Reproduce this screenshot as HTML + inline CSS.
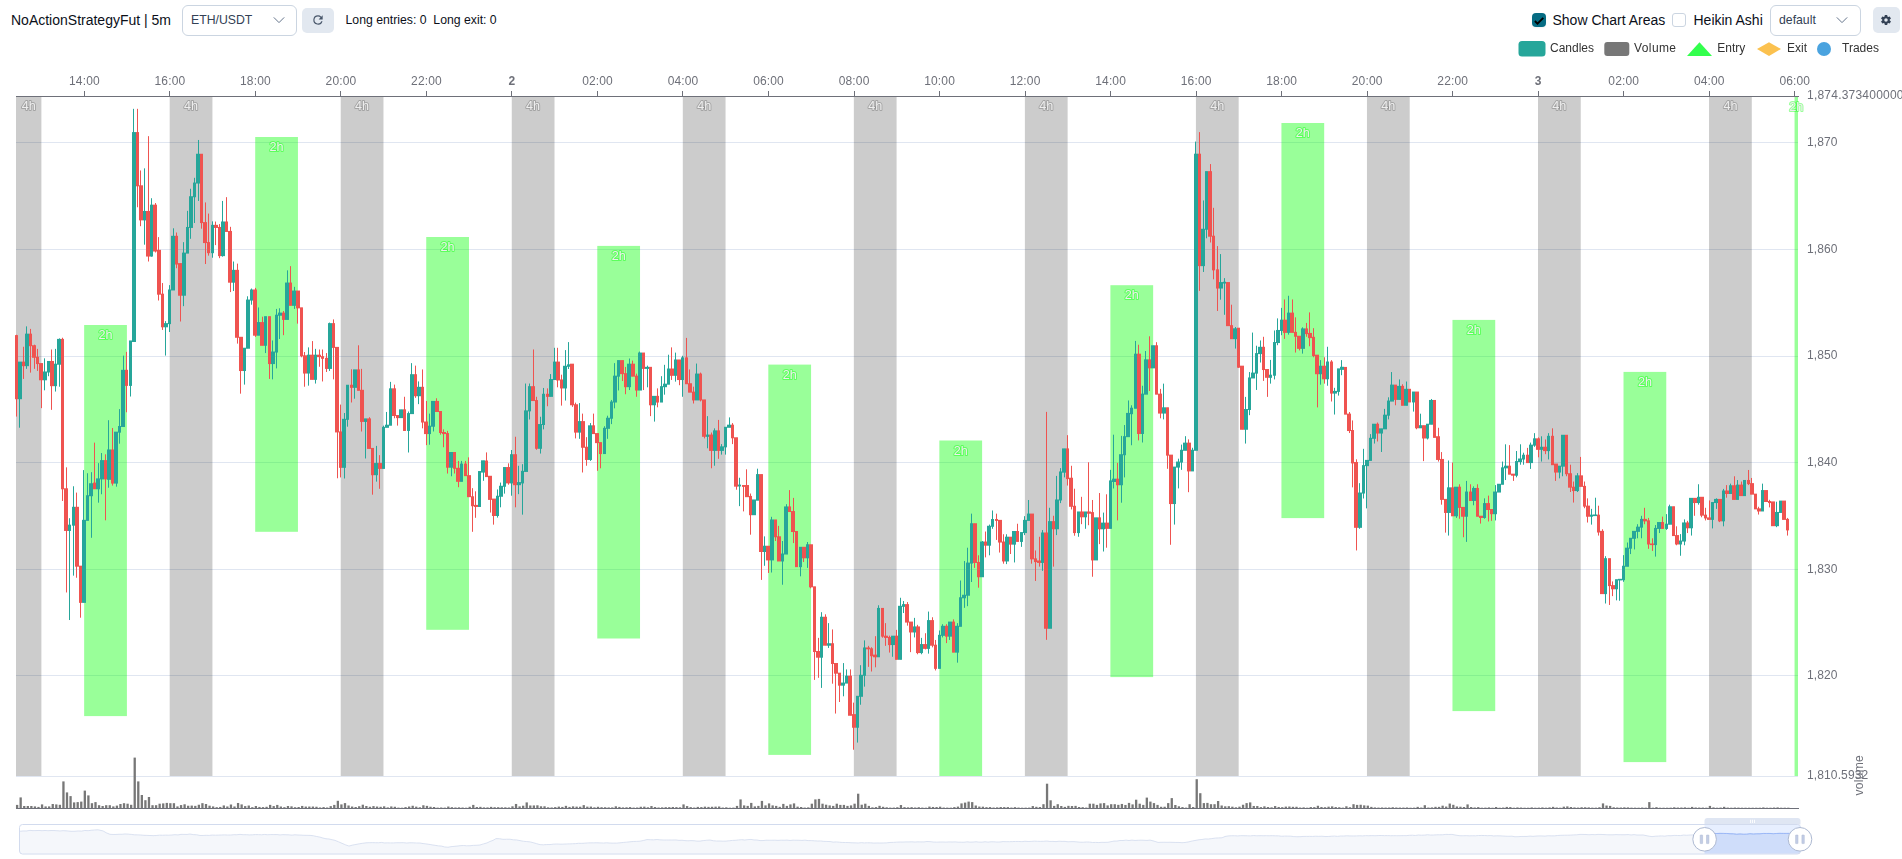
<!DOCTYPE html>
<html><head><meta charset="utf-8"><title>chart</title>
<style>
html,body{margin:0;padding:0;background:#fff;width:1902px;height:859px;overflow:hidden}
body{font-family:"Liberation Sans",sans-serif;color:#0f172a;position:relative}
.abs{position:absolute;white-space:nowrap}
.title{left:11px;top:11px;font-size:14px;line-height:18px;color:#0b0f19}
.sel{box-sizing:border-box;border:1px solid #cbd5e1;border-radius:6px;background:#fff;color:#334155;font-size:12.25px}
.btn{background:#e2e8f0;border-radius:5px}
.txt12{font-size:12.25px;color:#0b0f19}
.txt14{font-size:14px;color:#0b0f19}
</style></head><body>
<div class="abs title">NoActionStrategyFut | 5m</div>
<div class="abs sel" style="left:182px;top:5px;width:115px;height:31px"><span class="abs" style="left:8px;top:7px">ETH/USDT</span>
<svg class="abs" style="left:89px;top:7.3px" width="14" height="14" viewBox="0 0 14 14"><path d="M1.8 4.4L7 9.6L12.2 4.4" fill="none" stroke="#64748b" stroke-width="1"/></svg></div>
<div class="abs btn" style="left:302px;top:7.5px;width:32px;height:25.5px">
<svg class="abs" style="left:9px;top:5.5px" width="14" height="14" viewBox="0 0 24 24"><path fill="#475569" d="M17.65 6.35A7.96 7.96 0 0 0 12 4a8 8 0 1 0 7.73 10h-2.08A6 6 0 1 1 12 6c1.66 0 3.14.69 4.22 1.78L13 11h7V4l-2.35 2.35z"/></svg></div>
<div class="abs txt12" style="left:345.5px;top:12.5px">Long entries: 0&nbsp; Long exit: 0</div>

<div class="abs" style="left:1532px;top:13px;width:14px;height:14px;border-radius:4px;background:#066c83;box-shadow:0 1px 2px rgba(0,0,0,0.06)">
<svg class="abs" style="left:0;top:0" width="14" height="14" viewBox="0 0 14 14"><path d="M2.9 8.0L5.5 10.6L11.3 4.8" fill="none" stroke="#000" stroke-width="1.9"/></svg></div>
<div class="abs txt14" style="left:1552.5px;top:11px;line-height:18px">Show Chart Areas</div>
<div class="abs" style="box-sizing:border-box;left:1672px;top:13px;width:14px;height:14px;border-radius:3px;border:1px solid #cbd5e1;background:#fff"></div>
<div class="abs txt14" style="left:1693.5px;top:11px;line-height:18px">Heikin Ashi</div>
<div class="abs sel" style="left:1770px;top:5px;width:91px;height:31px"><span class="abs" style="left:8px;top:7px">default</span>
<svg class="abs" style="left:64px;top:7.3px" width="14" height="14" viewBox="0 0 14 14"><path d="M1.8 4.4L7 9.6L12.2 4.4" fill="none" stroke="#64748b" stroke-width="1"/></svg></div>
<div class="abs btn" style="left:1872.5px;top:6.5px;width:27px;height:26.5px">
<svg class="abs" style="left:7.3px;top:7.5px" width="12" height="12" viewBox="0 0 24 24"><path fill="#334155" d="M12 15.5A3.5 3.5 0 0 1 8.5 12 3.5 3.5 0 0 1 12 8.500 3.500 3.500 0 0 1 15.500 12a3.500 3.500 0 0 1-3.500 3.500m7.430-2.530c.040-.320.070-.640.070-.970s-.030-.660-.070-1l2.110-1.630c.190-.150.240-.420.120-.640l-2-3.460c-.120-.220-.390-.310-.610-.220l-2.490 1c-.520-.390-1.060-.730-1.690-.980l-.370-2.650A.506.506 0 0 0 14 2h-4c-.250 0-.460.180-.500.420l-.370 2.650c-.630.250-1.170.590-1.690.980l-2.490-1c-.220-.090-.490 0-.610.220l-2 3.460c-.130.220-.070.490.120.640L4.570 11c-.040.340-.070.670-.070 1s.030.650.070.970l-2.110 1.660c-.190.150-.250.420-.120.640l2 3.460c.120.220.390.300.610.220l2.490-1.010c.520.400 1.060.740 1.690.990l.370 2.650c.040.240.250.420.500.420h4c.250 0 .460-.180.500-.420l.370-2.650c.630-.260 1.170-.590 1.690-.990l2.490 1.010c.220.080.490 0 .610-.220l2-3.460c.120-.220.070-.490-.120-.640l-2.110-1.660z"/></svg></div>
<svg width="1902" height="859" viewBox="0 0 1902 859" style="position:absolute;left:0;top:0;will-change:transform" font-family="Liberation Sans, sans-serif">
<defs><clipPath id="cp"><rect x="16" y="96.5" width="1782" height="679.5"/></clipPath><clipPath id="cp2"><rect x="15" y="96.5" width="1785" height="679.5"/></clipPath></defs>
<line x1="16" x2="1798" y1="142.5" y2="142.5" stroke="#e0e6f1" stroke-width="1"/>
<line x1="16" x2="1798" y1="249.5" y2="249.5" stroke="#e0e6f1" stroke-width="1"/>
<line x1="16" x2="1798" y1="356.5" y2="356.5" stroke="#e0e6f1" stroke-width="1"/>
<line x1="16" x2="1798" y1="462.5" y2="462.5" stroke="#e0e6f1" stroke-width="1"/>
<line x1="16" x2="1798" y1="569.5" y2="569.5" stroke="#e0e6f1" stroke-width="1"/>
<line x1="16" x2="1798" y1="675.5" y2="675.5" stroke="#e0e6f1" stroke-width="1"/>
<line x1="16" x2="1798" y1="776.5" y2="776.5" stroke="#e0e6f1" stroke-width="1"/>
<g clip-path="url(#cp)">
<rect x="-1.37" y="96.5" width="42.76" height="679.5" fill="#000" fill-opacity="0.2"/>
<rect x="169.67" y="96.5" width="42.76" height="679.5" fill="#000" fill-opacity="0.2"/>
<rect x="340.71" y="96.5" width="42.76" height="679.5" fill="#000" fill-opacity="0.2"/>
<rect x="511.75" y="96.5" width="42.76" height="679.5" fill="#000" fill-opacity="0.2"/>
<rect x="682.79" y="96.5" width="42.76" height="679.5" fill="#000" fill-opacity="0.2"/>
<rect x="853.83" y="96.5" width="42.76" height="679.5" fill="#000" fill-opacity="0.2"/>
<rect x="1024.87" y="96.5" width="42.76" height="679.5" fill="#000" fill-opacity="0.2"/>
<rect x="1195.91" y="96.5" width="42.76" height="679.5" fill="#000" fill-opacity="0.2"/>
<rect x="1366.95" y="96.5" width="42.76" height="679.5" fill="#000" fill-opacity="0.2"/>
<rect x="1537.99" y="96.5" width="42.76" height="679.5" fill="#000" fill-opacity="0.2"/>
<rect x="1709.03" y="96.5" width="42.76" height="679.5" fill="#000" fill-opacity="0.2"/>
<rect x="84.15" y="325" width="42.76" height="391.1" fill="#00ff00" fill-opacity="0.4"/>
<rect x="255.19" y="137" width="42.76" height="394.8" fill="#00ff00" fill-opacity="0.4"/>
<rect x="426.23" y="237" width="42.76" height="392.8" fill="#00ff00" fill-opacity="0.4"/>
<rect x="597.27" y="245.9" width="42.76" height="392.6" fill="#00ff00" fill-opacity="0.4"/>
<rect x="768.31" y="364.6" width="42.76" height="390.3" fill="#00ff00" fill-opacity="0.4"/>
<rect x="939.35" y="440.5" width="42.76" height="388.8" fill="#00ff00" fill-opacity="0.4"/>
<rect x="1110.39" y="285.2" width="42.76" height="391.9" fill="#00ff00" fill-opacity="0.4"/>
<rect x="1281.43" y="123" width="42.76" height="395.1" fill="#00ff00" fill-opacity="0.4"/>
<rect x="1452.47" y="319.9" width="42.76" height="391.2" fill="#00ff00" fill-opacity="0.4"/>
<rect x="1623.51" y="371.9" width="42.76" height="390.2" fill="#00ff00" fill-opacity="0.4"/>
<rect x="1794.55" y="97" width="42.76" height="679" fill="#00ff00" fill-opacity="0.4"/>
</g>
<g font-size="12.6" text-anchor="middle" fill="#eeeeee" stroke-width="2" paint-order="stroke" stroke-linejoin="round">
<text x="28.70" y="110.2" stroke="#000" stroke-opacity="0.2">4h</text>
<text x="191.05" y="110.2" stroke="#000" stroke-opacity="0.2">4h</text>
<text x="362.09" y="110.2" stroke="#000" stroke-opacity="0.2">4h</text>
<text x="533.13" y="110.2" stroke="#000" stroke-opacity="0.2">4h</text>
<text x="704.17" y="110.2" stroke="#000" stroke-opacity="0.2">4h</text>
<text x="875.21" y="110.2" stroke="#000" stroke-opacity="0.2">4h</text>
<text x="1046.25" y="110.2" stroke="#000" stroke-opacity="0.2">4h</text>
<text x="1217.29" y="110.2" stroke="#000" stroke-opacity="0.2">4h</text>
<text x="1388.33" y="110.2" stroke="#000" stroke-opacity="0.2">4h</text>
<text x="1559.37" y="110.2" stroke="#000" stroke-opacity="0.2">4h</text>
<text x="1730.41" y="110.2" stroke="#000" stroke-opacity="0.2">4h</text>
<text x="105.53" y="339.20" stroke="#00ff00" stroke-opacity="0.4">2h</text>
<text x="276.57" y="151.20" stroke="#00ff00" stroke-opacity="0.4">2h</text>
<text x="447.61" y="251.20" stroke="#00ff00" stroke-opacity="0.4">2h</text>
<text x="618.65" y="260.10" stroke="#00ff00" stroke-opacity="0.4">2h</text>
<text x="789.69" y="378.80" stroke="#00ff00" stroke-opacity="0.4">2h</text>
<text x="960.73" y="454.70" stroke="#00ff00" stroke-opacity="0.4">2h</text>
<text x="1131.77" y="299.40" stroke="#00ff00" stroke-opacity="0.4">2h</text>
<text x="1302.81" y="137.20" stroke="#00ff00" stroke-opacity="0.4">2h</text>
<text x="1473.85" y="334.10" stroke="#00ff00" stroke-opacity="0.4">2h</text>
<text x="1644.89" y="386.10" stroke="#00ff00" stroke-opacity="0.4">2h</text>
<text x="1796.28" y="111.20" stroke="#00ff00" stroke-opacity="0.4">2h</text>
</g>
<g clip-path="url(#cp2)">
<path d="M16.5 334.77V416.59" stroke="#ef5350" stroke-width="1"/>
<rect x="15.0" y="335.11" width="3.0" height="64.10" fill="#ef5350"/>
<path d="M19.5 362.11V427.73" stroke="#26a69a" stroke-width="1"/>
<rect x="18.0" y="361.61" width="4.0" height="37.60" fill="#26a69a"/>
<path d="M23.5 346.76V378.93" stroke="#ef5350" stroke-width="1"/>
<rect x="22.0" y="361.61" width="3.0" height="4.57" fill="#ef5350"/>
<path d="M26.5 326.36V368.84" stroke="#26a69a" stroke-width="1"/>
<rect x="25.0" y="333.64" width="4.0" height="32.54" fill="#26a69a"/>
<path d="M30.5 328.89V372.62" stroke="#ef5350" stroke-width="1"/>
<rect x="29.0" y="333.64" width="3.0" height="12.57" fill="#ef5350"/>
<path d="M34.5 344.66V368.84" stroke="#ef5350" stroke-width="1"/>
<rect x="32.0" y="345.21" width="4.0" height="12.57" fill="#ef5350"/>
<path d="M37.5 348.86V370.95" stroke="#ef5350" stroke-width="1"/>
<rect x="36.0" y="356.77" width="3.0" height="7.31" fill="#ef5350"/>
<path d="M41.5 363.58V408.18" stroke="#ef5350" stroke-width="1"/>
<rect x="39.0" y="363.08" width="4.0" height="17.19" fill="#ef5350"/>
<path d="M44.5 358.33V390.30" stroke="#26a69a" stroke-width="1"/>
<rect x="43.0" y="371.50" width="4.0" height="8.78" fill="#26a69a"/>
<path d="M48.5 361.48V376.21" stroke="#26a69a" stroke-width="1"/>
<rect x="47.0" y="360.98" width="3.0" height="11.51" fill="#26a69a"/>
<path d="M51.5 349.49V409.85" stroke="#ef5350" stroke-width="1"/>
<rect x="50.0" y="360.98" width="4.0" height="25.19" fill="#ef5350"/>
<path d="M55.5 348.86V391.56" stroke="#26a69a" stroke-width="1"/>
<rect x="54.0" y="363.71" width="3.0" height="22.46" fill="#26a69a"/>
<path d="M59.5 338.35V386.72" stroke="#26a69a" stroke-width="1"/>
<rect x="57.0" y="338.90" width="4.0" height="25.82" fill="#26a69a"/>
<path d="M62.5 337.72V500.99" stroke="#ef5350" stroke-width="1"/>
<rect x="61.0" y="338.90" width="3.0" height="150.39" fill="#ef5350"/>
<path d="M66.5 467.34V592.48" stroke="#ef5350" stroke-width="1"/>
<rect x="64.0" y="488.29" width="4.0" height="42.65" fill="#ef5350"/>
<path d="M69.5 518.23V620.02" stroke="#26a69a" stroke-width="1"/>
<rect x="68.0" y="524.67" width="3.0" height="6.27" fill="#26a69a"/>
<path d="M73.5 486.27V575.64" stroke="#26a69a" stroke-width="1"/>
<rect x="72.0" y="506.80" width="3.0" height="18.87" fill="#26a69a"/>
<path d="M76.5 492.58V577.75" stroke="#ef5350" stroke-width="1"/>
<rect x="75.0" y="506.80" width="4.0" height="59.88" fill="#ef5350"/>
<path d="M80.5 566.18V617.71" stroke="#ef5350" stroke-width="1"/>
<rect x="79.0" y="565.68" width="3.0" height="37.18" fill="#ef5350"/>
<path d="M83.5 470.08V602.36" stroke="#26a69a" stroke-width="1"/>
<rect x="82.0" y="519.84" width="4.0" height="83.02" fill="#26a69a"/>
<path d="M87.5 473.23V520.34" stroke="#26a69a" stroke-width="1"/>
<rect x="86.0" y="495.23" width="3.0" height="25.61" fill="#26a69a"/>
<path d="M91.5 472.18V537.79" stroke="#26a69a" stroke-width="1"/>
<rect x="89.0" y="483.24" width="4.0" height="12.98" fill="#26a69a"/>
<path d="M94.5 442.64V488.76" stroke="#ef5350" stroke-width="1"/>
<rect x="93.0" y="482.60" width="3.0" height="6.66" fill="#ef5350"/>
<path d="M98.5 463.14V502.68" stroke="#26a69a" stroke-width="1"/>
<rect x="96.0" y="478.40" width="4.0" height="10.88" fill="#26a69a"/>
<path d="M101.5 453.04V494.25" stroke="#26a69a" stroke-width="1"/>
<rect x="100.0" y="460.11" width="4.0" height="19.29" fill="#26a69a"/>
<path d="M105.5 454.30V520.34" stroke="#ef5350" stroke-width="1"/>
<rect x="104.0" y="460.11" width="3.0" height="19.29" fill="#ef5350"/>
<path d="M108.5 420.21V487.72" stroke="#26a69a" stroke-width="1"/>
<rect x="107.0" y="449.48" width="4.0" height="30.35" fill="#26a69a"/>
<path d="M112.5 427.97V485.62" stroke="#ef5350" stroke-width="1"/>
<rect x="111.0" y="449.48" width="3.0" height="34.12" fill="#ef5350"/>
<path d="M116.5 432.16V486.66" stroke="#26a69a" stroke-width="1"/>
<rect x="114.0" y="431.66" width="4.0" height="51.94" fill="#26a69a"/>
<path d="M119.5 409.10V443.69" stroke="#26a69a" stroke-width="1"/>
<rect x="118.0" y="426.00" width="3.0" height="6.66" fill="#26a69a"/>
<path d="M123.5 355.64V426.50" stroke="#26a69a" stroke-width="1"/>
<rect x="121.0" y="369.81" width="4.0" height="57.19" fill="#26a69a"/>
<path d="M126.5 351.87V412.25" stroke="#ef5350" stroke-width="1"/>
<rect x="125.0" y="369.81" width="3.0" height="16.09" fill="#ef5350"/>
<path d="M130.5 340.96V396.52" stroke="#26a69a" stroke-width="1"/>
<rect x="129.0" y="340.46" width="3.0" height="45.44" fill="#26a69a"/>
<path d="M133.5 108.83V341.51" stroke="#26a69a" stroke-width="1"/>
<rect x="132.0" y="132.09" width="4.0" height="209.91" fill="#26a69a"/>
<path d="M137.5 108.83V207.26" stroke="#ef5350" stroke-width="1"/>
<rect x="136.0" y="132.09" width="3.0" height="54.21" fill="#ef5350"/>
<path d="M140.5 170.46V226.19" stroke="#ef5350" stroke-width="1"/>
<rect x="139.0" y="185.31" width="4.0" height="35.07" fill="#ef5350"/>
<path d="M144.5 168.35V244.69" stroke="#26a69a" stroke-width="1"/>
<rect x="143.0" y="210.97" width="3.0" height="9.41" fill="#26a69a"/>
<path d="M148.5 136.17V261.51" stroke="#ef5350" stroke-width="1"/>
<rect x="146.0" y="210.97" width="4.0" height="45.58" fill="#ef5350"/>
<path d="M151.5 198.22V256.68" stroke="#26a69a" stroke-width="1"/>
<rect x="150.0" y="204.66" width="3.0" height="51.89" fill="#26a69a"/>
<path d="M155.5 203.04V252.48" stroke="#ef5350" stroke-width="1"/>
<rect x="153.0" y="204.66" width="4.0" height="46.85" fill="#ef5350"/>
<path d="M158.5 237.11V300.50" stroke="#ef5350" stroke-width="1"/>
<rect x="157.0" y="249.86" width="4.0" height="44.82" fill="#ef5350"/>
<path d="M162.5 283.04V329.94" stroke="#ef5350" stroke-width="1"/>
<rect x="161.0" y="293.69" width="3.0" height="33.60" fill="#ef5350"/>
<path d="M165.5 321.10V355.59" stroke="#26a69a" stroke-width="1"/>
<rect x="164.0" y="323.13" width="4.0" height="4.16" fill="#26a69a"/>
<path d="M169.5 285.14V332.04" stroke="#26a69a" stroke-width="1"/>
<rect x="168.0" y="289.48" width="3.0" height="34.65" fill="#26a69a"/>
<path d="M173.5 228.29V289.98" stroke="#26a69a" stroke-width="1"/>
<rect x="171.0" y="235.78" width="4.0" height="54.69" fill="#26a69a"/>
<path d="M176.5 232.49V268.24" stroke="#ef5350" stroke-width="1"/>
<rect x="175.0" y="235.78" width="3.0" height="28.76" fill="#ef5350"/>
<path d="M180.5 263.61V321.52" stroke="#ef5350" stroke-width="1"/>
<rect x="178.0" y="263.11" width="4.0" height="32.62" fill="#ef5350"/>
<path d="M183.5 242.17V306.17" stroke="#26a69a" stroke-width="1"/>
<rect x="182.0" y="252.60" width="4.0" height="43.13" fill="#26a69a"/>
<path d="M187.5 210.83V253.10" stroke="#26a69a" stroke-width="1"/>
<rect x="186.0" y="226.95" width="3.0" height="26.66" fill="#26a69a"/>
<path d="M190.5 188.75V238.80" stroke="#26a69a" stroke-width="1"/>
<rect x="189.0" y="196.24" width="4.0" height="31.70" fill="#26a69a"/>
<path d="M194.5 177.81V223.03" stroke="#26a69a" stroke-width="1"/>
<rect x="193.0" y="182.57" width="3.0" height="14.68" fill="#26a69a"/>
<path d="M198.5 139.96V200.94" stroke="#26a69a" stroke-width="1"/>
<rect x="196.0" y="153.75" width="4.0" height="29.81" fill="#26a69a"/>
<path d="M201.5 154.25V228.70" stroke="#ef5350" stroke-width="1"/>
<rect x="200.0" y="153.75" width="3.0" height="69.35" fill="#ef5350"/>
<path d="M205.5 202.42V264.04" stroke="#ef5350" stroke-width="1"/>
<rect x="203.0" y="222.11" width="4.0" height="20.98" fill="#ef5350"/>
<path d="M208.5 213.57V255.63" stroke="#ef5350" stroke-width="1"/>
<rect x="207.0" y="242.08" width="3.0" height="11.10" fill="#ef5350"/>
<path d="M212.5 221.35V257.73" stroke="#26a69a" stroke-width="1"/>
<rect x="211.0" y="224.85" width="3.0" height="28.33" fill="#26a69a"/>
<path d="M215.5 221.56V245.11" stroke="#ef5350" stroke-width="1"/>
<rect x="214.0" y="224.85" width="4.0" height="3.10" fill="#ef5350"/>
<path d="M219.5 224.08V258.15" stroke="#ef5350" stroke-width="1"/>
<rect x="218.0" y="226.95" width="3.0" height="29.19" fill="#ef5350"/>
<path d="M222.5 200.94V256.68" stroke="#26a69a" stroke-width="1"/>
<rect x="221.0" y="221.48" width="4.0" height="34.65" fill="#26a69a"/>
<path d="M226.5 197.16V231.44" stroke="#ef5350" stroke-width="1"/>
<rect x="225.0" y="221.48" width="3.0" height="10.47" fill="#ef5350"/>
<path d="M230.5 226.82V292.08" stroke="#ef5350" stroke-width="1"/>
<rect x="228.0" y="230.94" width="4.0" height="51.75" fill="#ef5350"/>
<path d="M233.5 261.51V291.03" stroke="#26a69a" stroke-width="1"/>
<rect x="232.0" y="269.85" width="3.0" height="12.84" fill="#26a69a"/>
<path d="M237.5 263.61V343.61" stroke="#ef5350" stroke-width="1"/>
<rect x="235.0" y="269.85" width="4.0" height="67.94" fill="#ef5350"/>
<path d="M240.5 337.30V393.66" stroke="#ef5350" stroke-width="1"/>
<rect x="239.0" y="336.80" width="4.0" height="34.23" fill="#ef5350"/>
<path d="M244.5 348.23V384.62" stroke="#26a69a" stroke-width="1"/>
<rect x="243.0" y="347.73" width="3.0" height="23.29" fill="#26a69a"/>
<path d="M247.5 296.29V348.23" stroke="#26a69a" stroke-width="1"/>
<rect x="246.0" y="299.57" width="4.0" height="49.16" fill="#26a69a"/>
<path d="M251.5 288.51V304.70" stroke="#26a69a" stroke-width="1"/>
<rect x="250.0" y="289.48" width="3.0" height="11.10" fill="#26a69a"/>
<path d="M255.5 287.88V336.88" stroke="#ef5350" stroke-width="1"/>
<rect x="253.0" y="289.48" width="4.0" height="46.22" fill="#ef5350"/>
<path d="M258.5 307.44V335.20" stroke="#26a69a" stroke-width="1"/>
<rect x="257.0" y="322.08" width="3.0" height="13.62" fill="#26a69a"/>
<path d="M262.5 316.69V345.29" stroke="#ef5350" stroke-width="1"/>
<rect x="260.0" y="322.08" width="4.0" height="23.72" fill="#ef5350"/>
<path d="M265.5 316.69V353.07" stroke="#26a69a" stroke-width="1"/>
<rect x="264.0" y="316.19" width="3.0" height="29.60" fill="#26a69a"/>
<path d="M269.5 316.69V378.93" stroke="#ef5350" stroke-width="1"/>
<rect x="268.0" y="316.19" width="3.0" height="47.89" fill="#ef5350"/>
<path d="M272.5 340.45V379.36" stroke="#26a69a" stroke-width="1"/>
<rect x="271.0" y="351.52" width="4.0" height="12.57" fill="#26a69a"/>
<path d="M276.5 308.91V368.42" stroke="#26a69a" stroke-width="1"/>
<rect x="275.0" y="314.72" width="3.0" height="37.80" fill="#26a69a"/>
<path d="M279.5 308.28V338.98" stroke="#26a69a" stroke-width="1"/>
<rect x="278.0" y="312.61" width="4.0" height="3.11" fill="#26a69a"/>
<path d="M283.5 311.01V335.20" stroke="#ef5350" stroke-width="1"/>
<rect x="282.0" y="312.61" width="3.0" height="7.31" fill="#ef5350"/>
<path d="M287.5 270.35V319.42" stroke="#26a69a" stroke-width="1"/>
<rect x="285.0" y="282.54" width="4.0" height="37.38" fill="#26a69a"/>
<path d="M290.5 266.14V305.33" stroke="#ef5350" stroke-width="1"/>
<rect x="289.0" y="282.54" width="3.0" height="23.29" fill="#ef5350"/>
<path d="M294.5 286.82V308.91" stroke="#26a69a" stroke-width="1"/>
<rect x="292.0" y="290.53" width="4.0" height="15.30" fill="#26a69a"/>
<path d="M297.5 291.03V323.63" stroke="#ef5350" stroke-width="1"/>
<rect x="296.0" y="290.53" width="4.0" height="17.82" fill="#ef5350"/>
<path d="M301.5 307.85V357.27" stroke="#ef5350" stroke-width="1"/>
<rect x="300.0" y="307.35" width="3.0" height="48.95" fill="#ef5350"/>
<path d="M304.5 352.02V386.72" stroke="#ef5350" stroke-width="1"/>
<rect x="303.0" y="355.30" width="4.0" height="18.25" fill="#ef5350"/>
<path d="M308.5 347.39V385.67" stroke="#26a69a" stroke-width="1"/>
<rect x="307.0" y="354.67" width="3.0" height="18.88" fill="#26a69a"/>
<path d="M312.5 341.08V379.36" stroke="#ef5350" stroke-width="1"/>
<rect x="310.0" y="354.67" width="4.0" height="25.19" fill="#ef5350"/>
<path d="M315.5 348.86V383.56" stroke="#26a69a" stroke-width="1"/>
<rect x="314.0" y="354.67" width="3.0" height="25.19" fill="#26a69a"/>
<path d="M319.5 349.49V366.74" stroke="#ef5350" stroke-width="1"/>
<rect x="317.0" y="354.67" width="4.0" height="2.47" fill="#ef5350"/>
<path d="M322.5 349.49V381.46" stroke="#ef5350" stroke-width="1"/>
<rect x="321.0" y="356.14" width="3.0" height="2.68" fill="#ef5350"/>
<path d="M326.5 353.07V372.00" stroke="#ef5350" stroke-width="1"/>
<rect x="325.0" y="357.83" width="3.0" height="11.10" fill="#ef5350"/>
<path d="M329.5 322.58V370.95" stroke="#26a69a" stroke-width="1"/>
<rect x="328.0" y="323.13" width="4.0" height="45.79" fill="#26a69a"/>
<path d="M333.5 319.42V379.36" stroke="#ef5350" stroke-width="1"/>
<rect x="332.0" y="323.13" width="3.0" height="24.76" fill="#ef5350"/>
<path d="M337.5 347.39V478.28" stroke="#ef5350" stroke-width="1"/>
<rect x="335.0" y="346.89" width="4.0" height="85.54" fill="#ef5350"/>
<path d="M340.5 404.59V477.43" stroke="#ef5350" stroke-width="1"/>
<rect x="339.0" y="431.44" width="3.0" height="36.40" fill="#ef5350"/>
<path d="M344.5 413.00V478.49" stroke="#26a69a" stroke-width="1"/>
<rect x="342.0" y="418.81" width="4.0" height="49.02" fill="#26a69a"/>
<path d="M347.5 385.25V426.68" stroke="#26a69a" stroke-width="1"/>
<rect x="346.0" y="384.75" width="3.0" height="35.07" fill="#26a69a"/>
<path d="M351.5 369.27V402.49" stroke="#ef5350" stroke-width="1"/>
<rect x="350.0" y="384.75" width="3.0" height="3.10" fill="#ef5350"/>
<path d="M354.5 369.90V398.71" stroke="#26a69a" stroke-width="1"/>
<rect x="353.0" y="369.40" width="4.0" height="18.45" fill="#26a69a"/>
<path d="M358.5 345.29V390.30" stroke="#ef5350" stroke-width="1"/>
<rect x="357.0" y="369.40" width="3.0" height="21.40" fill="#ef5350"/>
<path d="M361.5 368.84V431.51" stroke="#ef5350" stroke-width="1"/>
<rect x="360.0" y="389.80" width="4.0" height="32.12" fill="#ef5350"/>
<path d="M365.5 418.90V458.51" stroke="#26a69a" stroke-width="1"/>
<rect x="364.0" y="418.40" width="3.0" height="3.52" fill="#26a69a"/>
<path d="M369.5 417.21V448.42" stroke="#ef5350" stroke-width="1"/>
<rect x="367.0" y="418.40" width="4.0" height="30.52" fill="#ef5350"/>
<path d="M372.5 448.42V494.68" stroke="#ef5350" stroke-width="1"/>
<rect x="371.0" y="447.92" width="3.0" height="27.29" fill="#ef5350"/>
<path d="M376.5 445.89V481.64" stroke="#26a69a" stroke-width="1"/>
<rect x="374.0" y="463.05" width="4.0" height="12.15" fill="#26a69a"/>
<path d="M379.5 455.14V488.79" stroke="#ef5350" stroke-width="1"/>
<rect x="378.0" y="463.05" width="4.0" height="5.84" fill="#ef5350"/>
<path d="M383.5 425.63V468.39" stroke="#26a69a" stroke-width="1"/>
<rect x="382.0" y="426.81" width="3.0" height="42.08" fill="#26a69a"/>
<path d="M386.5 411.96V427.31" stroke="#26a69a" stroke-width="1"/>
<rect x="385.0" y="424.71" width="4.0" height="3.10" fill="#26a69a"/>
<path d="M390.5 381.88V425.21" stroke="#26a69a" stroke-width="1"/>
<rect x="389.0" y="388.33" width="3.0" height="37.38" fill="#26a69a"/>
<path d="M394.5 384.62V418.27" stroke="#ef5350" stroke-width="1"/>
<rect x="392.0" y="388.33" width="4.0" height="27.70" fill="#ef5350"/>
<path d="M397.5 415.53V425.63" stroke="#ef5350" stroke-width="1"/>
<rect x="396.0" y="415.03" width="3.0" height="3.10" fill="#ef5350"/>
<path d="M401.5 409.85V417.63" stroke="#26a69a" stroke-width="1"/>
<rect x="399.0" y="409.35" width="4.0" height="8.78" fill="#26a69a"/>
<path d="M404.5 396.78V430.43" stroke="#ef5350" stroke-width="1"/>
<rect x="403.0" y="409.32" width="3.0" height="21.62" fill="#ef5350"/>
<path d="M408.5 411.50V452.51" stroke="#26a69a" stroke-width="1"/>
<rect x="407.0" y="413.11" width="3.0" height="17.82" fill="#26a69a"/>
<path d="M411.5 363.14V413.61" stroke="#26a69a" stroke-width="1"/>
<rect x="410.0" y="374.20" width="4.0" height="39.91" fill="#26a69a"/>
<path d="M415.5 365.65V397.83" stroke="#ef5350" stroke-width="1"/>
<rect x="414.0" y="374.20" width="3.0" height="22.03" fill="#ef5350"/>
<path d="M418.5 381.43V404.15" stroke="#26a69a" stroke-width="1"/>
<rect x="417.0" y="386.81" width="4.0" height="9.42" fill="#26a69a"/>
<path d="M422.5 369.45V428.33" stroke="#ef5350" stroke-width="1"/>
<rect x="421.0" y="386.81" width="3.0" height="35.71" fill="#ef5350"/>
<path d="M426.5 400.99V445.15" stroke="#ef5350" stroke-width="1"/>
<rect x="424.0" y="421.52" width="4.0" height="12.57" fill="#ef5350"/>
<path d="M429.5 413.61V444.73" stroke="#26a69a" stroke-width="1"/>
<rect x="428.0" y="425.72" width="3.0" height="8.37" fill="#26a69a"/>
<path d="M433.5 401.41V431.48" stroke="#26a69a" stroke-width="1"/>
<rect x="431.0" y="400.91" width="4.0" height="25.82" fill="#26a69a"/>
<path d="M436.5 398.25V411.50" stroke="#ef5350" stroke-width="1"/>
<rect x="435.0" y="400.91" width="4.0" height="11.10" fill="#ef5350"/>
<path d="M440.5 411.50V434.63" stroke="#ef5350" stroke-width="1"/>
<rect x="439.0" y="411.00" width="3.0" height="22.03" fill="#ef5350"/>
<path d="M443.5 429.38V447.25" stroke="#ef5350" stroke-width="1"/>
<rect x="442.0" y="432.03" width="4.0" height="2.06" fill="#ef5350"/>
<path d="M447.5 430.85V473.54" stroke="#ef5350" stroke-width="1"/>
<rect x="446.0" y="433.09" width="3.0" height="34.64" fill="#ef5350"/>
<path d="M451.5 452.51V476.28" stroke="#26a69a" stroke-width="1"/>
<rect x="449.0" y="452.01" width="4.0" height="15.72" fill="#26a69a"/>
<path d="M454.5 452.51V473.54" stroke="#ef5350" stroke-width="1"/>
<rect x="453.0" y="452.01" width="3.0" height="16.78" fill="#ef5350"/>
<path d="M458.5 460.92V487.21" stroke="#ef5350" stroke-width="1"/>
<rect x="456.0" y="467.79" width="4.0" height="14.04" fill="#ef5350"/>
<path d="M461.5 460.92V481.32" stroke="#26a69a" stroke-width="1"/>
<rect x="460.0" y="463.58" width="3.0" height="18.25" fill="#26a69a"/>
<path d="M465.5 460.92V475.64" stroke="#ef5350" stroke-width="1"/>
<rect x="464.0" y="463.58" width="3.0" height="12.57" fill="#ef5350"/>
<path d="M468.5 457.35V496.67" stroke="#ef5350" stroke-width="1"/>
<rect x="467.0" y="475.14" width="4.0" height="22.03" fill="#ef5350"/>
<path d="M472.5 488.16V531.80" stroke="#ef5350" stroke-width="1"/>
<rect x="471.0" y="496.28" width="3.0" height="9.94" fill="#ef5350"/>
<path d="M475.5 491.31V517.81" stroke="#ef5350" stroke-width="1"/>
<rect x="474.0" y="504.90" width="4.0" height="2.06" fill="#ef5350"/>
<path d="M479.5 471.55V506.46" stroke="#26a69a" stroke-width="1"/>
<rect x="478.0" y="471.05" width="3.0" height="35.91" fill="#26a69a"/>
<path d="M483.5 460.82V480.80" stroke="#26a69a" stroke-width="1"/>
<rect x="481.0" y="460.32" width="4.0" height="12.25" fill="#26a69a"/>
<path d="M486.5 452.40V476.59" stroke="#ef5350" stroke-width="1"/>
<rect x="485.0" y="460.53" width="3.0" height="16.56" fill="#ef5350"/>
<path d="M490.5 476.28V512.56" stroke="#ef5350" stroke-width="1"/>
<rect x="488.0" y="475.78" width="4.0" height="24.13" fill="#ef5350"/>
<path d="M493.5 499.09V524.65" stroke="#ef5350" stroke-width="1"/>
<rect x="492.0" y="498.59" width="4.0" height="17.41" fill="#ef5350"/>
<path d="M497.5 489.43V517.60" stroke="#26a69a" stroke-width="1"/>
<rect x="496.0" y="495.76" width="3.0" height="20.24" fill="#26a69a"/>
<path d="M500.5 482.58V507.30" stroke="#26a69a" stroke-width="1"/>
<rect x="499.0" y="485.77" width="4.0" height="10.99" fill="#26a69a"/>
<path d="M504.5 467.55V493.63" stroke="#26a69a" stroke-width="1"/>
<rect x="503.0" y="467.05" width="3.0" height="19.72" fill="#26a69a"/>
<path d="M508.5 463.34V484.69" stroke="#ef5350" stroke-width="1"/>
<rect x="506.0" y="467.05" width="4.0" height="16.35" fill="#ef5350"/>
<path d="M511.5 449.99V495.73" stroke="#26a69a" stroke-width="1"/>
<rect x="510.0" y="454.22" width="3.0" height="29.19" fill="#26a69a"/>
<path d="M515.5 436.74V507.30" stroke="#ef5350" stroke-width="1"/>
<rect x="513.0" y="454.22" width="4.0" height="30.98" fill="#ef5350"/>
<path d="M518.5 465.76V494.16" stroke="#26a69a" stroke-width="1"/>
<rect x="517.0" y="482.08" width="4.0" height="3.11" fill="#26a69a"/>
<path d="M522.5 464.18V514.66" stroke="#26a69a" stroke-width="1"/>
<rect x="521.0" y="470.84" width="3.0" height="12.57" fill="#26a69a"/>
<path d="M525.5 383.53V471.44" stroke="#26a69a" stroke-width="1"/>
<rect x="524.0" y="410.37" width="4.0" height="61.57" fill="#26a69a"/>
<path d="M529.5 383.53V419.50" stroke="#26a69a" stroke-width="1"/>
<rect x="528.0" y="386.18" width="3.0" height="25.19" fill="#26a69a"/>
<path d="M533.5 349.46V400.56" stroke="#ef5350" stroke-width="1"/>
<rect x="531.0" y="386.18" width="4.0" height="14.88" fill="#ef5350"/>
<path d="M536.5 396.78V449.78" stroke="#ef5350" stroke-width="1"/>
<rect x="535.0" y="400.06" width="3.0" height="48.75" fill="#ef5350"/>
<path d="M540.5 416.76V453.57" stroke="#26a69a" stroke-width="1"/>
<rect x="538.0" y="424.04" width="4.0" height="24.77" fill="#26a69a"/>
<path d="M543.5 387.95V429.38" stroke="#26a69a" stroke-width="1"/>
<rect x="542.0" y="393.76" width="3.0" height="31.27" fill="#26a69a"/>
<path d="M547.5 388.37V406.25" stroke="#ef5350" stroke-width="1"/>
<rect x="546.0" y="393.76" width="3.0" height="3.10" fill="#ef5350"/>
<path d="M550.5 374.07V396.36" stroke="#26a69a" stroke-width="1"/>
<rect x="549.0" y="379.04" width="4.0" height="17.82" fill="#26a69a"/>
<path d="M554.5 347.79V379.54" stroke="#26a69a" stroke-width="1"/>
<rect x="553.0" y="361.58" width="3.0" height="18.46" fill="#26a69a"/>
<path d="M557.5 347.79V387.31" stroke="#ef5350" stroke-width="1"/>
<rect x="556.0" y="361.58" width="4.0" height="18.88" fill="#ef5350"/>
<path d="M561.5 374.70V405.62" stroke="#ef5350" stroke-width="1"/>
<rect x="560.0" y="379.46" width="3.0" height="9.00" fill="#ef5350"/>
<path d="M565.5 350.10V400.56" stroke="#26a69a" stroke-width="1"/>
<rect x="563.0" y="365.79" width="4.0" height="22.66" fill="#26a69a"/>
<path d="M568.5 342.10V369.02" stroke="#26a69a" stroke-width="1"/>
<rect x="567.0" y="364.32" width="3.0" height="2.47" fill="#26a69a"/>
<path d="M572.5 364.18V406.87" stroke="#ef5350" stroke-width="1"/>
<rect x="570.0" y="363.68" width="4.0" height="41.59" fill="#ef5350"/>
<path d="M575.5 402.67V438.42" stroke="#ef5350" stroke-width="1"/>
<rect x="574.0" y="404.27" width="4.0" height="28.34" fill="#ef5350"/>
<path d="M579.5 403.09V438.84" stroke="#26a69a" stroke-width="1"/>
<rect x="578.0" y="421.10" width="3.0" height="11.52" fill="#26a69a"/>
<path d="M582.5 413.61V472.49" stroke="#ef5350" stroke-width="1"/>
<rect x="581.0" y="421.10" width="4.0" height="26.66" fill="#ef5350"/>
<path d="M586.5 437.16V465.76" stroke="#ef5350" stroke-width="1"/>
<rect x="585.0" y="446.75" width="3.0" height="13.20" fill="#ef5350"/>
<path d="M590.5 423.07V460.92" stroke="#26a69a" stroke-width="1"/>
<rect x="588.0" y="425.31" width="4.0" height="34.64" fill="#26a69a"/>
<path d="M593.5 413.61V433.59" stroke="#ef5350" stroke-width="1"/>
<rect x="592.0" y="425.31" width="3.0" height="8.78" fill="#ef5350"/>
<path d="M597.5 433.59V470.81" stroke="#ef5350" stroke-width="1"/>
<rect x="595.0" y="433.09" width="4.0" height="10.04" fill="#ef5350"/>
<path d="M600.5 442.63V468.29" stroke="#ef5350" stroke-width="1"/>
<rect x="599.0" y="442.13" width="3.0" height="11.94" fill="#ef5350"/>
<path d="M604.5 426.22V453.57" stroke="#26a69a" stroke-width="1"/>
<rect x="603.0" y="427.83" width="3.0" height="26.23" fill="#26a69a"/>
<path d="M607.5 415.71V438.84" stroke="#26a69a" stroke-width="1"/>
<rect x="606.0" y="417.74" width="4.0" height="11.10" fill="#26a69a"/>
<path d="M611.5 399.93V424.12" stroke="#26a69a" stroke-width="1"/>
<rect x="610.0" y="401.53" width="3.0" height="17.20" fill="#26a69a"/>
<path d="M614.5 363.14V408.35" stroke="#26a69a" stroke-width="1"/>
<rect x="613.0" y="375.67" width="4.0" height="26.86" fill="#26a69a"/>
<path d="M618.5 360.61V390.47" stroke="#26a69a" stroke-width="1"/>
<rect x="617.0" y="360.11" width="3.0" height="16.56" fill="#26a69a"/>
<path d="M622.5 360.61V381.01" stroke="#ef5350" stroke-width="1"/>
<rect x="620.0" y="360.11" width="4.0" height="14.04" fill="#ef5350"/>
<path d="M625.5 366.92V394.26" stroke="#ef5350" stroke-width="1"/>
<rect x="624.0" y="373.15" width="3.0" height="14.04" fill="#ef5350"/>
<path d="M629.5 358.51V390.05" stroke="#26a69a" stroke-width="1"/>
<rect x="627.0" y="363.68" width="4.0" height="23.50" fill="#26a69a"/>
<path d="M632.5 360.61V376.17" stroke="#ef5350" stroke-width="1"/>
<rect x="631.0" y="363.68" width="4.0" height="12.99" fill="#ef5350"/>
<path d="M636.5 373.65V396.78" stroke="#ef5350" stroke-width="1"/>
<rect x="635.0" y="375.67" width="3.0" height="14.88" fill="#ef5350"/>
<path d="M639.5 351.57V390.05" stroke="#26a69a" stroke-width="1"/>
<rect x="638.0" y="352.54" width="4.0" height="38.01" fill="#26a69a"/>
<path d="M643.5 353.04V390.05" stroke="#ef5350" stroke-width="1"/>
<rect x="642.0" y="352.54" width="3.0" height="16.35" fill="#ef5350"/>
<path d="M647.5 365.65V387.31" stroke="#26a69a" stroke-width="1"/>
<rect x="645.0" y="366.84" width="4.0" height="2.06" fill="#26a69a"/>
<path d="M650.5 367.34V416.13" stroke="#ef5350" stroke-width="1"/>
<rect x="649.0" y="366.84" width="3.0" height="38.44" fill="#ef5350"/>
<path d="M654.5 396.36V421.60" stroke="#26a69a" stroke-width="1"/>
<rect x="652.0" y="395.86" width="4.0" height="9.41" fill="#26a69a"/>
<path d="M657.5 388.37V407.30" stroke="#ef5350" stroke-width="1"/>
<rect x="656.0" y="395.86" width="3.0" height="6.67" fill="#ef5350"/>
<path d="M661.5 376.17V402.03" stroke="#26a69a" stroke-width="1"/>
<rect x="660.0" y="386.18" width="3.0" height="16.35" fill="#26a69a"/>
<path d="M664.5 364.82V394.68" stroke="#26a69a" stroke-width="1"/>
<rect x="663.0" y="383.67" width="4.0" height="3.52" fill="#26a69a"/>
<path d="M668.5 354.73V384.17" stroke="#26a69a" stroke-width="1"/>
<rect x="667.0" y="368.52" width="3.0" height="16.15" fill="#26a69a"/>
<path d="M671.5 347.36V379.96" stroke="#ef5350" stroke-width="1"/>
<rect x="670.0" y="368.52" width="4.0" height="7.31" fill="#ef5350"/>
<path d="M675.5 352.62V381.64" stroke="#26a69a" stroke-width="1"/>
<rect x="674.0" y="359.48" width="3.0" height="16.35" fill="#26a69a"/>
<path d="M679.5 359.98V385.21" stroke="#ef5350" stroke-width="1"/>
<rect x="677.0" y="359.48" width="4.0" height="20.56" fill="#ef5350"/>
<path d="M682.5 355.77V396.78" stroke="#26a69a" stroke-width="1"/>
<rect x="681.0" y="357.38" width="3.0" height="22.66" fill="#26a69a"/>
<path d="M686.5 337.89V383.74" stroke="#ef5350" stroke-width="1"/>
<rect x="685.0" y="357.38" width="3.0" height="26.86" fill="#ef5350"/>
<path d="M689.5 369.45V392.15" stroke="#ef5350" stroke-width="1"/>
<rect x="688.0" y="383.24" width="4.0" height="9.41" fill="#ef5350"/>
<path d="M693.5 386.68V403.52" stroke="#ef5350" stroke-width="1"/>
<rect x="692.0" y="391.65" width="3.0" height="8.78" fill="#ef5350"/>
<path d="M696.5 363.55V399.93" stroke="#26a69a" stroke-width="1"/>
<rect x="695.0" y="373.57" width="4.0" height="26.86" fill="#26a69a"/>
<path d="M700.5 372.59V401.41" stroke="#ef5350" stroke-width="1"/>
<rect x="699.0" y="373.57" width="3.0" height="26.86" fill="#ef5350"/>
<path d="M704.5 399.93V438.42" stroke="#ef5350" stroke-width="1"/>
<rect x="702.0" y="399.43" width="4.0" height="37.38" fill="#ef5350"/>
<path d="M707.5 416.13V448.31" stroke="#26a69a" stroke-width="1"/>
<rect x="706.0" y="434.56" width="3.0" height="2.26" fill="#26a69a"/>
<path d="M711.5 432.53V468.29" stroke="#ef5350" stroke-width="1"/>
<rect x="709.0" y="434.56" width="4.0" height="16.35" fill="#ef5350"/>
<path d="M714.5 428.33V465.76" stroke="#26a69a" stroke-width="1"/>
<rect x="713.0" y="430.35" width="4.0" height="20.56" fill="#26a69a"/>
<path d="M718.5 419.91V458.82" stroke="#ef5350" stroke-width="1"/>
<rect x="717.0" y="430.35" width="3.0" height="20.56" fill="#ef5350"/>
<path d="M721.5 444.10V454.62" stroke="#26a69a" stroke-width="1"/>
<rect x="720.0" y="446.34" width="4.0" height="4.57" fill="#26a69a"/>
<path d="M725.5 427.28V454.62" stroke="#26a69a" stroke-width="1"/>
<rect x="724.0" y="426.78" width="3.0" height="20.56" fill="#26a69a"/>
<path d="M729.5 417.40V427.28" stroke="#26a69a" stroke-width="1"/>
<rect x="727.0" y="424.68" width="4.0" height="3.10" fill="#26a69a"/>
<path d="M732.5 423.07V444.10" stroke="#ef5350" stroke-width="1"/>
<rect x="731.0" y="424.68" width="3.0" height="13.61" fill="#ef5350"/>
<path d="M736.5 437.79V489.73" stroke="#ef5350" stroke-width="1"/>
<rect x="734.0" y="437.29" width="4.0" height="49.38" fill="#ef5350"/>
<path d="M739.5 477.75V506.14" stroke="#26a69a" stroke-width="1"/>
<rect x="738.0" y="484.61" width="3.0" height="1.84" fill="#26a69a"/>
<path d="M743.5 485.53V511.40" stroke="#ef5350" stroke-width="1"/>
<rect x="742.0" y="485.03" width="3.0" height="1.84" fill="#ef5350"/>
<path d="M746.5 469.34V496.67" stroke="#ef5350" stroke-width="1"/>
<rect x="745.0" y="485.03" width="4.0" height="12.14" fill="#ef5350"/>
<path d="M750.5 493.52V534.68" stroke="#ef5350" stroke-width="1"/>
<rect x="749.0" y="495.91" width="3.0" height="19.29" fill="#ef5350"/>
<path d="M753.5 499.98V514.70" stroke="#26a69a" stroke-width="1"/>
<rect x="752.0" y="499.48" width="4.0" height="15.72" fill="#26a69a"/>
<path d="M757.5 468.70V500.19" stroke="#26a69a" stroke-width="1"/>
<rect x="756.0" y="474.10" width="3.0" height="26.59" fill="#26a69a"/>
<path d="M761.5 474.60V579.90" stroke="#ef5350" stroke-width="1"/>
<rect x="759.0" y="474.10" width="4.0" height="77.90" fill="#ef5350"/>
<path d="M764.5 536.36V565.80" stroke="#26a69a" stroke-width="1"/>
<rect x="763.0" y="545.74" width="3.0" height="6.26" fill="#26a69a"/>
<path d="M768.5 546.24V572.96" stroke="#ef5350" stroke-width="1"/>
<rect x="766.0" y="545.74" width="4.0" height="14.68" fill="#ef5350"/>
<path d="M771.5 516.80V572.53" stroke="#26a69a" stroke-width="1"/>
<rect x="770.0" y="519.46" width="4.0" height="40.96" fill="#26a69a"/>
<path d="M775.5 519.96V540.99" stroke="#ef5350" stroke-width="1"/>
<rect x="774.0" y="519.46" width="3.0" height="17.82" fill="#ef5350"/>
<path d="M778.5 525.85V560.96" stroke="#ef5350" stroke-width="1"/>
<rect x="777.0" y="536.28" width="4.0" height="25.19" fill="#ef5350"/>
<path d="M782.5 540.99V584.74" stroke="#26a69a" stroke-width="1"/>
<rect x="781.0" y="553.53" width="3.0" height="7.94" fill="#26a69a"/>
<path d="M786.5 504.19V554.03" stroke="#26a69a" stroke-width="1"/>
<rect x="784.0" y="506.42" width="4.0" height="48.11" fill="#26a69a"/>
<path d="M789.5 490.10V511.55" stroke="#ef5350" stroke-width="1"/>
<rect x="788.0" y="506.42" width="3.0" height="5.63" fill="#ef5350"/>
<path d="M793.5 497.88V543.09" stroke="#ef5350" stroke-width="1"/>
<rect x="791.0" y="511.05" width="4.0" height="20.98" fill="#ef5350"/>
<path d="M796.5 531.52V566.65" stroke="#ef5350" stroke-width="1"/>
<rect x="795.0" y="531.02" width="3.0" height="36.12" fill="#ef5350"/>
<path d="M800.5 547.30V576.32" stroke="#26a69a" stroke-width="1"/>
<rect x="799.0" y="546.80" width="3.0" height="20.35" fill="#26a69a"/>
<path d="M803.5 547.30V562.02" stroke="#ef5350" stroke-width="1"/>
<rect x="802.0" y="546.80" width="4.0" height="11.51" fill="#ef5350"/>
<path d="M807.5 542.04V567.90" stroke="#26a69a" stroke-width="1"/>
<rect x="806.0" y="544.27" width="3.0" height="14.04" fill="#26a69a"/>
<path d="M810.5 544.77V588.31" stroke="#ef5350" stroke-width="1"/>
<rect x="809.0" y="544.27" width="4.0" height="43.06" fill="#ef5350"/>
<path d="M814.5 586.84V679.92" stroke="#ef5350" stroke-width="1"/>
<rect x="813.0" y="586.34" width="3.0" height="65.68" fill="#ef5350"/>
<path d="M818.5 637.86V677.81" stroke="#ef5350" stroke-width="1"/>
<rect x="816.0" y="651.02" width="4.0" height="6.68" fill="#ef5350"/>
<path d="M821.5 612.20V687.90" stroke="#26a69a" stroke-width="1"/>
<rect x="820.0" y="616.75" width="3.0" height="40.95" fill="#26a69a"/>
<path d="M825.5 614.30V645.21" stroke="#ef5350" stroke-width="1"/>
<rect x="823.0" y="616.75" width="4.0" height="28.96" fill="#ef5350"/>
<path d="M828.5 623.13V647.95" stroke="#26a69a" stroke-width="1"/>
<rect x="827.0" y="643.24" width="4.0" height="2.47" fill="#26a69a"/>
<path d="M832.5 629.44V683.70" stroke="#ef5350" stroke-width="1"/>
<rect x="831.0" y="643.24" width="3.0" height="20.77" fill="#ef5350"/>
<path d="M835.5 663.51V713.56" stroke="#ef5350" stroke-width="1"/>
<rect x="834.0" y="663.01" width="4.0" height="10.67" fill="#ef5350"/>
<path d="M839.5 673.18V702.00" stroke="#ef5350" stroke-width="1"/>
<rect x="838.0" y="672.68" width="3.0" height="12.99" fill="#ef5350"/>
<path d="M843.5 663.09V696.31" stroke="#26a69a" stroke-width="1"/>
<rect x="841.0" y="682.58" width="4.0" height="3.10" fill="#26a69a"/>
<path d="M846.5 669.40V683.08" stroke="#26a69a" stroke-width="1"/>
<rect x="845.0" y="675.64" width="3.0" height="7.94" fill="#26a69a"/>
<path d="M850.5 669.40V715.25" stroke="#ef5350" stroke-width="1"/>
<rect x="848.0" y="675.64" width="4.0" height="40.11" fill="#ef5350"/>
<path d="M853.5 702.63V749.73" stroke="#ef5350" stroke-width="1"/>
<rect x="852.0" y="714.12" width="4.0" height="13.62" fill="#ef5350"/>
<path d="M857.5 696.31V742.59" stroke="#26a69a" stroke-width="1"/>
<rect x="856.0" y="695.81" width="3.0" height="31.92" fill="#26a69a"/>
<path d="M860.5 665.20V704.74" stroke="#26a69a" stroke-width="1"/>
<rect x="859.0" y="674.79" width="4.0" height="22.02" fill="#26a69a"/>
<path d="M864.5 640.38V686.65" stroke="#26a69a" stroke-width="1"/>
<rect x="863.0" y="647.45" width="3.0" height="28.34" fill="#26a69a"/>
<path d="M868.5 645.85V666.87" stroke="#ef5350" stroke-width="1"/>
<rect x="866.0" y="647.45" width="4.0" height="1.84" fill="#ef5350"/>
<path d="M871.5 647.19V671.50" stroke="#ef5350" stroke-width="1"/>
<rect x="870.0" y="648.29" width="3.0" height="7.94" fill="#ef5350"/>
<path d="M875.5 636.17V667.30" stroke="#ef5350" stroke-width="1"/>
<rect x="873.0" y="654.60" width="4.0" height="2.68" fill="#ef5350"/>
<path d="M878.5 605.26V656.79" stroke="#26a69a" stroke-width="1"/>
<rect x="877.0" y="607.91" width="3.0" height="49.38" fill="#26a69a"/>
<path d="M882.5 608.41V637.73" stroke="#ef5350" stroke-width="1"/>
<rect x="881.0" y="607.91" width="3.0" height="28.76" fill="#ef5350"/>
<path d="M885.5 623.13V645.85" stroke="#ef5350" stroke-width="1"/>
<rect x="884.0" y="635.67" width="4.0" height="2.26" fill="#ef5350"/>
<path d="M889.5 635.63V652.58" stroke="#ef5350" stroke-width="1"/>
<rect x="888.0" y="636.93" width="3.0" height="8.15" fill="#ef5350"/>
<path d="M892.5 636.17V656.79" stroke="#26a69a" stroke-width="1"/>
<rect x="891.0" y="635.67" width="4.0" height="9.41" fill="#26a69a"/>
<path d="M896.5 629.86V659.30" stroke="#ef5350" stroke-width="1"/>
<rect x="895.0" y="635.67" width="3.0" height="24.13" fill="#ef5350"/>
<path d="M900.5 597.77V659.30" stroke="#26a69a" stroke-width="1"/>
<rect x="898.0" y="605.81" width="4.0" height="53.99" fill="#26a69a"/>
<path d="M903.5 601.05V613.04" stroke="#26a69a" stroke-width="1"/>
<rect x="902.0" y="604.13" width="3.0" height="2.68" fill="#26a69a"/>
<path d="M907.5 602.10V625.66" stroke="#ef5350" stroke-width="1"/>
<rect x="905.0" y="604.13" width="4.0" height="18.45" fill="#ef5350"/>
<path d="M910.5 622.08V652.15" stroke="#ef5350" stroke-width="1"/>
<rect x="909.0" y="621.58" width="4.0" height="10.89" fill="#ef5350"/>
<path d="M914.5 617.88V637.43" stroke="#26a69a" stroke-width="1"/>
<rect x="913.0" y="626.42" width="3.0" height="6.05" fill="#26a69a"/>
<path d="M917.5 624.82V654.26" stroke="#ef5350" stroke-width="1"/>
<rect x="916.0" y="626.42" width="4.0" height="26.66" fill="#ef5350"/>
<path d="M921.5 637.86V654.26" stroke="#26a69a" stroke-width="1"/>
<rect x="920.0" y="644.08" width="3.0" height="9.00" fill="#26a69a"/>
<path d="M925.5 633.23V649.42" stroke="#ef5350" stroke-width="1"/>
<rect x="923.0" y="644.08" width="4.0" height="4.78" fill="#ef5350"/>
<path d="M928.5 611.57V653.63" stroke="#26a69a" stroke-width="1"/>
<rect x="927.0" y="620.11" width="3.0" height="28.76" fill="#26a69a"/>
<path d="M932.5 617.25V647.32" stroke="#ef5350" stroke-width="1"/>
<rect x="930.0" y="620.11" width="4.0" height="25.60" fill="#ef5350"/>
<path d="M935.5 639.96V670.45" stroke="#ef5350" stroke-width="1"/>
<rect x="934.0" y="644.71" width="3.0" height="24.14" fill="#ef5350"/>
<path d="M939.5 630.49V668.35" stroke="#26a69a" stroke-width="1"/>
<rect x="938.0" y="634.83" width="3.0" height="34.02" fill="#26a69a"/>
<path d="M942.5 624.19V637.43" stroke="#26a69a" stroke-width="1"/>
<rect x="941.0" y="625.79" width="4.0" height="10.04" fill="#26a69a"/>
<path d="M946.5 624.19V643.11" stroke="#ef5350" stroke-width="1"/>
<rect x="945.0" y="625.79" width="3.0" height="10.88" fill="#ef5350"/>
<path d="M949.5 622.08V639.96" stroke="#26a69a" stroke-width="1"/>
<rect x="948.0" y="621.58" width="4.0" height="15.09" fill="#26a69a"/>
<path d="M953.5 619.35V652.15" stroke="#ef5350" stroke-width="1"/>
<rect x="952.0" y="621.58" width="3.0" height="31.07" fill="#ef5350"/>
<path d="M957.5 623.13V662.67" stroke="#26a69a" stroke-width="1"/>
<rect x="955.0" y="625.79" width="4.0" height="26.86" fill="#26a69a"/>
<path d="M960.5 580.53V626.29" stroke="#26a69a" stroke-width="1"/>
<rect x="959.0" y="597.27" width="3.0" height="29.52" fill="#26a69a"/>
<path d="M964.5 560.96V607.87" stroke="#26a69a" stroke-width="1"/>
<rect x="962.0" y="594.75" width="4.0" height="3.53" fill="#26a69a"/>
<path d="M967.5 547.71V606.18" stroke="#26a69a" stroke-width="1"/>
<rect x="966.0" y="562.58" width="4.0" height="33.17" fill="#26a69a"/>
<path d="M971.5 513.65V582.00" stroke="#26a69a" stroke-width="1"/>
<rect x="970.0" y="523.24" width="3.0" height="40.34" fill="#26a69a"/>
<path d="M974.5 523.74V567.90" stroke="#ef5350" stroke-width="1"/>
<rect x="973.0" y="523.24" width="4.0" height="39.70" fill="#ef5350"/>
<path d="M978.5 555.29V587.68" stroke="#ef5350" stroke-width="1"/>
<rect x="977.0" y="561.94" width="3.0" height="15.31" fill="#ef5350"/>
<path d="M982.5 540.99V576.74" stroke="#26a69a" stroke-width="1"/>
<rect x="980.0" y="541.54" width="4.0" height="35.70" fill="#26a69a"/>
<path d="M985.5 531.52V557.39" stroke="#ef5350" stroke-width="1"/>
<rect x="984.0" y="541.54" width="3.0" height="4.16" fill="#ef5350"/>
<path d="M989.5 524.58V555.29" stroke="#26a69a" stroke-width="1"/>
<rect x="987.0" y="525.77" width="4.0" height="19.93" fill="#26a69a"/>
<path d="M992.5 510.49V528.79" stroke="#26a69a" stroke-width="1"/>
<rect x="991.0" y="519.04" width="3.0" height="7.73" fill="#26a69a"/>
<path d="M996.5 513.65V539.93" stroke="#ef5350" stroke-width="1"/>
<rect x="995.0" y="519.04" width="3.0" height="1.84" fill="#ef5350"/>
<path d="M999.5 520.38V552.55" stroke="#ef5350" stroke-width="1"/>
<rect x="998.0" y="519.88" width="4.0" height="22.66" fill="#ef5350"/>
<path d="M1003.5 534.26V563.70" stroke="#ef5350" stroke-width="1"/>
<rect x="1002.0" y="541.54" width="3.0" height="19.92" fill="#ef5350"/>
<path d="M1006.5 534.26V564.12" stroke="#26a69a" stroke-width="1"/>
<rect x="1005.0" y="536.70" width="4.0" height="24.76" fill="#26a69a"/>
<path d="M1010.5 537.20V554.03" stroke="#ef5350" stroke-width="1"/>
<rect x="1009.0" y="536.70" width="3.0" height="7.94" fill="#ef5350"/>
<path d="M1014.5 531.52V562.44" stroke="#26a69a" stroke-width="1"/>
<rect x="1012.0" y="531.02" width="4.0" height="13.62" fill="#26a69a"/>
<path d="M1017.5 523.74V541.40" stroke="#ef5350" stroke-width="1"/>
<rect x="1016.0" y="531.02" width="3.0" height="10.88" fill="#ef5350"/>
<path d="M1021.5 532.58V546.87" stroke="#26a69a" stroke-width="1"/>
<rect x="1020.0" y="532.08" width="3.0" height="9.83" fill="#26a69a"/>
<path d="M1024.5 516.17V535.10" stroke="#26a69a" stroke-width="1"/>
<rect x="1023.0" y="519.88" width="4.0" height="13.20" fill="#26a69a"/>
<path d="M1028.5 499.98V520.38" stroke="#26a69a" stroke-width="1"/>
<rect x="1027.0" y="513.57" width="3.0" height="7.31" fill="#26a69a"/>
<path d="M1031.5 514.07V563.70" stroke="#ef5350" stroke-width="1"/>
<rect x="1030.0" y="513.57" width="4.0" height="45.79" fill="#ef5350"/>
<path d="M1035.5 550.45V580.94" stroke="#ef5350" stroke-width="1"/>
<rect x="1034.0" y="558.36" width="3.0" height="3.73" fill="#ef5350"/>
<path d="M1039.5 536.78V566.65" stroke="#ef5350" stroke-width="1"/>
<rect x="1037.0" y="560.46" width="4.0" height="2.47" fill="#ef5350"/>
<path d="M1042.5 530.05V570.85" stroke="#26a69a" stroke-width="1"/>
<rect x="1041.0" y="532.49" width="3.0" height="30.44" fill="#26a69a"/>
<path d="M1046.5 411.87V639.83" stroke="#ef5350" stroke-width="1"/>
<rect x="1044.0" y="532.49" width="4.0" height="96.27" fill="#ef5350"/>
<path d="M1049.5 507.76V628.26" stroke="#26a69a" stroke-width="1"/>
<rect x="1048.0" y="521.14" width="4.0" height="107.62" fill="#26a69a"/>
<path d="M1053.5 515.76V566.65" stroke="#ef5350" stroke-width="1"/>
<rect x="1052.0" y="521.14" width="3.0" height="8.15" fill="#ef5350"/>
<path d="M1056.5 475.90V535.10" stroke="#26a69a" stroke-width="1"/>
<rect x="1055.0" y="499.48" width="4.0" height="29.81" fill="#26a69a"/>
<path d="M1060.5 468.11V503.13" stroke="#26a69a" stroke-width="1"/>
<rect x="1059.0" y="471.44" width="3.0" height="29.04" fill="#26a69a"/>
<path d="M1064.5 448.90V477.41" stroke="#26a69a" stroke-width="1"/>
<rect x="1062.0" y="448.40" width="4.0" height="24.28" fill="#26a69a"/>
<path d="M1067.5 435.16V485.57" stroke="#ef5350" stroke-width="1"/>
<rect x="1066.0" y="448.40" width="3.0" height="30.69" fill="#ef5350"/>
<path d="M1071.5 465.77V509.45" stroke="#ef5350" stroke-width="1"/>
<rect x="1069.0" y="477.73" width="4.0" height="29.06" fill="#ef5350"/>
<path d="M1074.5 488.71V535.73" stroke="#ef5350" stroke-width="1"/>
<rect x="1073.0" y="505.79" width="3.0" height="27.29" fill="#ef5350"/>
<path d="M1078.5 511.97V536.78" stroke="#26a69a" stroke-width="1"/>
<rect x="1077.0" y="511.47" width="3.0" height="21.61" fill="#26a69a"/>
<path d="M1081.5 496.82V524.17" stroke="#ef5350" stroke-width="1"/>
<rect x="1080.0" y="511.47" width="4.0" height="5.83" fill="#ef5350"/>
<path d="M1085.5 511.97V528.79" stroke="#26a69a" stroke-width="1"/>
<rect x="1084.0" y="511.47" width="3.0" height="5.83" fill="#26a69a"/>
<path d="M1088.5 462.29V525.21" stroke="#ef5350" stroke-width="1"/>
<rect x="1087.0" y="511.47" width="4.0" height="2.26" fill="#ef5350"/>
<path d="M1092.5 499.98V576.74" stroke="#ef5350" stroke-width="1"/>
<rect x="1091.0" y="512.10" width="3.0" height="48.32" fill="#ef5350"/>
<path d="M1096.5 517.86V559.92" stroke="#26a69a" stroke-width="1"/>
<rect x="1094.0" y="517.36" width="4.0" height="43.06" fill="#26a69a"/>
<path d="M1099.5 493.04V544.14" stroke="#ef5350" stroke-width="1"/>
<rect x="1098.0" y="517.36" width="3.0" height="11.94" fill="#ef5350"/>
<path d="M1103.5 512.60V551.50" stroke="#26a69a" stroke-width="1"/>
<rect x="1101.0" y="522.61" width="4.0" height="6.68" fill="#26a69a"/>
<path d="M1106.5 494.30V547.71" stroke="#ef5350" stroke-width="1"/>
<rect x="1105.0" y="522.61" width="4.0" height="6.26" fill="#ef5350"/>
<path d="M1110.5 469.85V528.37" stroke="#26a69a" stroke-width="1"/>
<rect x="1109.0" y="480.41" width="3.0" height="48.46" fill="#26a69a"/>
<path d="M1113.5 434.69V488.48" stroke="#26a69a" stroke-width="1"/>
<rect x="1112.0" y="478.66" width="4.0" height="3.33" fill="#26a69a"/>
<path d="M1117.5 462.86V520.38" stroke="#ef5350" stroke-width="1"/>
<rect x="1116.0" y="478.66" width="3.0" height="6.59" fill="#ef5350"/>
<path d="M1121.5 435.86V502.71" stroke="#26a69a" stroke-width="1"/>
<rect x="1119.0" y="454.22" width="4.0" height="31.03" fill="#26a69a"/>
<path d="M1124.5 425.03V477.41" stroke="#26a69a" stroke-width="1"/>
<rect x="1123.0" y="436.17" width="3.0" height="19.05" fill="#26a69a"/>
<path d="M1128.5 400.46V436.67" stroke="#26a69a" stroke-width="1"/>
<rect x="1126.0" y="412.89" width="4.0" height="24.28" fill="#26a69a"/>
<path d="M1131.5 405.29V445.25" stroke="#26a69a" stroke-width="1"/>
<rect x="1130.0" y="407.73" width="3.0" height="6.47" fill="#26a69a"/>
<path d="M1135.5 340.93V408.23" stroke="#26a69a" stroke-width="1"/>
<rect x="1134.0" y="353.68" width="3.0" height="55.05" fill="#26a69a"/>
<path d="M1138.5 344.72V440.41" stroke="#ef5350" stroke-width="1"/>
<rect x="1137.0" y="353.68" width="4.0" height="80.29" fill="#ef5350"/>
<path d="M1142.5 385.74V442.51" stroke="#26a69a" stroke-width="1"/>
<rect x="1141.0" y="393.65" width="3.0" height="40.32" fill="#26a69a"/>
<path d="M1145.5 351.03V394.15" stroke="#26a69a" stroke-width="1"/>
<rect x="1144.0" y="359.36" width="4.0" height="35.28" fill="#26a69a"/>
<path d="M1149.5 336.31V390.99" stroke="#ef5350" stroke-width="1"/>
<rect x="1148.0" y="359.36" width="3.0" height="9.00" fill="#ef5350"/>
<path d="M1153.5 345.77V367.86" stroke="#26a69a" stroke-width="1"/>
<rect x="1151.0" y="345.27" width="4.0" height="23.09" fill="#26a69a"/>
<path d="M1156.5 342.20V394.15" stroke="#ef5350" stroke-width="1"/>
<rect x="1155.0" y="345.27" width="3.0" height="49.38" fill="#ef5350"/>
<path d="M1160.5 388.88V418.32" stroke="#ef5350" stroke-width="1"/>
<rect x="1158.0" y="393.65" width="4.0" height="19.92" fill="#ef5350"/>
<path d="M1163.5 383.63V419.38" stroke="#26a69a" stroke-width="1"/>
<rect x="1162.0" y="407.31" width="4.0" height="6.26" fill="#26a69a"/>
<path d="M1167.5 407.81V468.80" stroke="#ef5350" stroke-width="1"/>
<rect x="1166.0" y="407.31" width="3.0" height="48.32" fill="#ef5350"/>
<path d="M1170.5 455.13V544.77" stroke="#ef5350" stroke-width="1"/>
<rect x="1169.0" y="454.63" width="4.0" height="49.42" fill="#ef5350"/>
<path d="M1174.5 467.11V524.58" stroke="#26a69a" stroke-width="1"/>
<rect x="1173.0" y="466.61" width="3.0" height="37.44" fill="#26a69a"/>
<path d="M1178.5 458.70V488.41" stroke="#26a69a" stroke-width="1"/>
<rect x="1176.0" y="461.57" width="4.0" height="6.04" fill="#26a69a"/>
<path d="M1181.5 444.61V469.85" stroke="#26a69a" stroke-width="1"/>
<rect x="1180.0" y="449.79" width="3.0" height="12.78" fill="#26a69a"/>
<path d="M1185.5 436.20V450.29" stroke="#26a69a" stroke-width="1"/>
<rect x="1183.0" y="442.64" width="4.0" height="8.15" fill="#26a69a"/>
<path d="M1188.5 439.36V492.20" stroke="#ef5350" stroke-width="1"/>
<rect x="1187.0" y="442.64" width="4.0" height="28.77" fill="#ef5350"/>
<path d="M1192.5 447.77V470.91" stroke="#26a69a" stroke-width="1"/>
<rect x="1191.0" y="449.79" width="3.0" height="21.62" fill="#26a69a"/>
<path d="M1195.5 141.57V450.29" stroke="#26a69a" stroke-width="1"/>
<rect x="1194.0" y="153.69" width="4.0" height="297.10" fill="#26a69a"/>
<path d="M1199.5 132.10V290.88" stroke="#ef5350" stroke-width="1"/>
<rect x="1198.0" y="153.69" width="3.0" height="112.46" fill="#ef5350"/>
<path d="M1203.5 200.45V271.95" stroke="#26a69a" stroke-width="1"/>
<rect x="1201.0" y="228.77" width="4.0" height="37.38" fill="#26a69a"/>
<path d="M1206.5 171.64V238.31" stroke="#26a69a" stroke-width="1"/>
<rect x="1205.0" y="171.14" width="3.0" height="58.63" fill="#26a69a"/>
<path d="M1210.5 164.07V242.51" stroke="#ef5350" stroke-width="1"/>
<rect x="1208.0" y="171.14" width="4.0" height="65.57" fill="#ef5350"/>
<path d="M1213.5 207.81V279.32" stroke="#ef5350" stroke-width="1"/>
<rect x="1212.0" y="235.71" width="3.0" height="34.64" fill="#ef5350"/>
<path d="M1217.5 246.09V310.98" stroke="#ef5350" stroke-width="1"/>
<rect x="1216.0" y="269.35" width="3.0" height="19.20" fill="#ef5350"/>
<path d="M1220.5 254.08V299.69" stroke="#26a69a" stroke-width="1"/>
<rect x="1219.0" y="282.07" width="4.0" height="6.48" fill="#26a69a"/>
<path d="M1224.5 278.14V314.81" stroke="#26a69a" stroke-width="1"/>
<rect x="1223.0" y="281.73" width="3.0" height="1.81" fill="#26a69a"/>
<path d="M1227.5 282.57V325.65" stroke="#ef5350" stroke-width="1"/>
<rect x="1226.0" y="282.07" width="4.0" height="44.08" fill="#ef5350"/>
<path d="M1231.5 304.69V338.68" stroke="#ef5350" stroke-width="1"/>
<rect x="1230.0" y="325.15" width="3.0" height="14.04" fill="#ef5350"/>
<path d="M1235.5 327.04V348.58" stroke="#26a69a" stroke-width="1"/>
<rect x="1233.0" y="328.29" width="4.0" height="10.89" fill="#26a69a"/>
<path d="M1238.5 328.20V367.86" stroke="#ef5350" stroke-width="1"/>
<rect x="1237.0" y="327.70" width="3.0" height="40.00" fill="#ef5350"/>
<path d="M1242.5 366.17V429.26" stroke="#ef5350" stroke-width="1"/>
<rect x="1240.0" y="365.67" width="4.0" height="64.09" fill="#ef5350"/>
<path d="M1245.5 396.88V443.57" stroke="#26a69a" stroke-width="1"/>
<rect x="1244.0" y="409.00" width="4.0" height="20.76" fill="#26a69a"/>
<path d="M1249.5 372.06V415.18" stroke="#26a69a" stroke-width="1"/>
<rect x="1248.0" y="377.45" width="3.0" height="32.54" fill="#26a69a"/>
<path d="M1252.5 332.57V377.95" stroke="#26a69a" stroke-width="1"/>
<rect x="1251.0" y="372.61" width="4.0" height="5.84" fill="#26a69a"/>
<path d="M1256.5 345.72V389.94" stroke="#26a69a" stroke-width="1"/>
<rect x="1255.0" y="353.11" width="3.0" height="20.51" fill="#26a69a"/>
<path d="M1260.5 340.46V362.54" stroke="#26a69a" stroke-width="1"/>
<rect x="1258.0" y="346.80" width="4.0" height="7.31" fill="#26a69a"/>
<path d="M1263.5 336.79V380.90" stroke="#ef5350" stroke-width="1"/>
<rect x="1262.0" y="346.80" width="3.0" height="23.24" fill="#ef5350"/>
<path d="M1267.5 369.53V396.88" stroke="#ef5350" stroke-width="1"/>
<rect x="1265.0" y="369.03" width="4.0" height="8.78" fill="#ef5350"/>
<path d="M1270.5 359.92V383.63" stroke="#26a69a" stroke-width="1"/>
<rect x="1269.0" y="374.71" width="3.0" height="3.10" fill="#26a69a"/>
<path d="M1274.5 330.47V379.43" stroke="#26a69a" stroke-width="1"/>
<rect x="1273.0" y="342.06" width="3.0" height="33.65" fill="#26a69a"/>
<path d="M1277.5 318.39V345.20" stroke="#26a69a" stroke-width="1"/>
<rect x="1276.0" y="329.97" width="4.0" height="13.09" fill="#26a69a"/>
<path d="M1281.5 307.86V335.21" stroke="#26a69a" stroke-width="1"/>
<rect x="1280.0" y="319.67" width="3.0" height="11.31" fill="#26a69a"/>
<path d="M1284.5 299.45V338.89" stroke="#ef5350" stroke-width="1"/>
<rect x="1283.0" y="319.67" width="4.0" height="13.20" fill="#ef5350"/>
<path d="M1288.5 295.78V334.67" stroke="#26a69a" stroke-width="1"/>
<rect x="1287.0" y="312.62" width="3.0" height="20.24" fill="#26a69a"/>
<path d="M1292.5 299.45V332.36" stroke="#ef5350" stroke-width="1"/>
<rect x="1290.0" y="312.62" width="4.0" height="20.24" fill="#ef5350"/>
<path d="M1295.5 317.33V352.55" stroke="#ef5350" stroke-width="1"/>
<rect x="1294.0" y="331.86" width="3.0" height="4.89" fill="#ef5350"/>
<path d="M1299.5 336.25V350.45" stroke="#ef5350" stroke-width="1"/>
<rect x="1297.0" y="335.75" width="4.0" height="13.10" fill="#ef5350"/>
<path d="M1302.5 327.32V353.61" stroke="#26a69a" stroke-width="1"/>
<rect x="1301.0" y="328.40" width="4.0" height="20.45" fill="#26a69a"/>
<path d="M1306.5 322.91V336.79" stroke="#ef5350" stroke-width="1"/>
<rect x="1305.0" y="328.40" width="3.0" height="5.73" fill="#ef5350"/>
<path d="M1309.5 312.38V346.25" stroke="#ef5350" stroke-width="1"/>
<rect x="1308.0" y="332.92" width="4.0" height="5.21" fill="#ef5350"/>
<path d="M1313.5 328.16V357.28" stroke="#ef5350" stroke-width="1"/>
<rect x="1312.0" y="336.81" width="3.0" height="19.20" fill="#ef5350"/>
<path d="M1317.5 355.18V407.40" stroke="#ef5350" stroke-width="1"/>
<rect x="1315.0" y="354.68" width="4.0" height="19.56" fill="#ef5350"/>
<path d="M1320.5 360.13V384.68" stroke="#26a69a" stroke-width="1"/>
<rect x="1319.0" y="365.73" width="3.0" height="8.52" fill="#26a69a"/>
<path d="M1324.5 357.28V383.63" stroke="#ef5350" stroke-width="1"/>
<rect x="1322.0" y="365.73" width="4.0" height="13.56" fill="#ef5350"/>
<path d="M1327.5 346.77V385.74" stroke="#26a69a" stroke-width="1"/>
<rect x="1326.0" y="361.52" width="3.0" height="17.77" fill="#26a69a"/>
<path d="M1331.5 360.13V401.50" stroke="#ef5350" stroke-width="1"/>
<rect x="1330.0" y="361.52" width="3.0" height="32.07" fill="#ef5350"/>
<path d="M1334.5 387.84V414.54" stroke="#26a69a" stroke-width="1"/>
<rect x="1333.0" y="390.91" width="4.0" height="2.68" fill="#26a69a"/>
<path d="M1338.5 368.90V395.62" stroke="#26a69a" stroke-width="1"/>
<rect x="1337.0" y="368.40" width="3.0" height="23.50" fill="#26a69a"/>
<path d="M1341.5 360.13V375.21" stroke="#26a69a" stroke-width="1"/>
<rect x="1340.0" y="366.77" width="4.0" height="3.11" fill="#26a69a"/>
<path d="M1345.5 367.43V414.12" stroke="#ef5350" stroke-width="1"/>
<rect x="1344.0" y="366.93" width="3.0" height="47.69" fill="#ef5350"/>
<path d="M1349.5 412.02V433.04" stroke="#ef5350" stroke-width="1"/>
<rect x="1347.0" y="413.62" width="4.0" height="17.41" fill="#ef5350"/>
<path d="M1352.5 420.43V487.36" stroke="#ef5350" stroke-width="1"/>
<rect x="1351.0" y="430.03" width="3.0" height="33.39" fill="#ef5350"/>
<path d="M1356.5 459.33V550.45" stroke="#ef5350" stroke-width="1"/>
<rect x="1354.0" y="461.99" width="4.0" height="65.83" fill="#ef5350"/>
<path d="M1359.5 483.16V528.79" stroke="#26a69a" stroke-width="1"/>
<rect x="1358.0" y="492.54" width="4.0" height="35.28" fill="#26a69a"/>
<path d="M1363.5 448.82V498.51" stroke="#26a69a" stroke-width="1"/>
<rect x="1362.0" y="465.14" width="3.0" height="28.40" fill="#26a69a"/>
<path d="M1366.5 460.39V508.39" stroke="#26a69a" stroke-width="1"/>
<rect x="1365.0" y="459.89" width="4.0" height="6.26" fill="#26a69a"/>
<path d="M1370.5 434.10V460.39" stroke="#26a69a" stroke-width="1"/>
<rect x="1369.0" y="437.81" width="3.0" height="23.08" fill="#26a69a"/>
<path d="M1374.5 424.22V443.57" stroke="#26a69a" stroke-width="1"/>
<rect x="1372.0" y="423.72" width="4.0" height="15.09" fill="#26a69a"/>
<path d="M1377.5 422.53V441.47" stroke="#ef5350" stroke-width="1"/>
<rect x="1376.0" y="423.72" width="3.0" height="9.83" fill="#ef5350"/>
<path d="M1381.5 428.84V451.98" stroke="#26a69a" stroke-width="1"/>
<rect x="1379.0" y="428.34" width="4.0" height="5.20" fill="#26a69a"/>
<path d="M1384.5 408.87V428.84" stroke="#26a69a" stroke-width="1"/>
<rect x="1383.0" y="414.68" width="4.0" height="14.67" fill="#26a69a"/>
<path d="M1388.5 397.30V419.38" stroke="#26a69a" stroke-width="1"/>
<rect x="1387.0" y="400.59" width="3.0" height="15.09" fill="#26a69a"/>
<path d="M1391.5 372.06V401.09" stroke="#26a69a" stroke-width="1"/>
<rect x="1390.0" y="384.60" width="4.0" height="16.99" fill="#26a69a"/>
<path d="M1395.5 385.10V405.29" stroke="#ef5350" stroke-width="1"/>
<rect x="1394.0" y="384.60" width="3.0" height="15.31" fill="#ef5350"/>
<path d="M1399.5 379.43V399.40" stroke="#26a69a" stroke-width="1"/>
<rect x="1397.0" y="385.86" width="4.0" height="14.04" fill="#26a69a"/>
<path d="M1402.5 384.25V405.29" stroke="#ef5350" stroke-width="1"/>
<rect x="1401.0" y="385.86" width="3.0" height="19.92" fill="#ef5350"/>
<path d="M1406.5 381.53V405.29" stroke="#26a69a" stroke-width="1"/>
<rect x="1404.0" y="388.81" width="4.0" height="16.98" fill="#26a69a"/>
<path d="M1409.5 389.31V401.93" stroke="#ef5350" stroke-width="1"/>
<rect x="1408.0" y="388.81" width="3.0" height="13.62" fill="#ef5350"/>
<path d="M1413.5 392.04V411.60" stroke="#26a69a" stroke-width="1"/>
<rect x="1412.0" y="391.54" width="3.0" height="10.89" fill="#26a69a"/>
<path d="M1416.5 392.04V429.26" stroke="#ef5350" stroke-width="1"/>
<rect x="1415.0" y="391.54" width="4.0" height="36.75" fill="#ef5350"/>
<path d="M1420.5 413.70V427.79" stroke="#26a69a" stroke-width="1"/>
<rect x="1419.0" y="425.19" width="3.0" height="3.10" fill="#26a69a"/>
<path d="M1423.5 425.69V461.12" stroke="#ef5350" stroke-width="1"/>
<rect x="1422.0" y="425.19" width="4.0" height="13.30" fill="#ef5350"/>
<path d="M1427.5 424.22V439.46" stroke="#26a69a" stroke-width="1"/>
<rect x="1426.0" y="423.72" width="3.0" height="14.77" fill="#26a69a"/>
<path d="M1431.5 398.98V424.22" stroke="#26a69a" stroke-width="1"/>
<rect x="1429.0" y="399.96" width="4.0" height="24.76" fill="#26a69a"/>
<path d="M1434.5 400.46V437.36" stroke="#ef5350" stroke-width="1"/>
<rect x="1433.0" y="399.96" width="3.0" height="37.90" fill="#ef5350"/>
<path d="M1438.5 427.79V461.55" stroke="#ef5350" stroke-width="1"/>
<rect x="1436.0" y="436.23" width="4.0" height="23.71" fill="#ef5350"/>
<path d="M1441.5 452.08V504.66" stroke="#ef5350" stroke-width="1"/>
<rect x="1440.0" y="458.94" width="4.0" height="40.96" fill="#ef5350"/>
<path d="M1445.5 499.40V532.63" stroke="#ef5350" stroke-width="1"/>
<rect x="1444.0" y="498.90" width="3.0" height="14.04" fill="#ef5350"/>
<path d="M1448.5 460.49V535.57" stroke="#26a69a" stroke-width="1"/>
<rect x="1447.0" y="487.34" width="4.0" height="25.60" fill="#26a69a"/>
<path d="M1452.5 462.59V515.81" stroke="#ef5350" stroke-width="1"/>
<rect x="1451.0" y="487.34" width="3.0" height="28.97" fill="#ef5350"/>
<path d="M1456.5 487.20V517.91" stroke="#26a69a" stroke-width="1"/>
<rect x="1454.0" y="486.70" width="4.0" height="29.61" fill="#26a69a"/>
<path d="M1459.5 484.26V518.75" stroke="#ef5350" stroke-width="1"/>
<rect x="1458.0" y="486.70" width="3.0" height="21.19" fill="#ef5350"/>
<path d="M1463.5 507.39V537.26" stroke="#ef5350" stroke-width="1"/>
<rect x="1461.0" y="506.89" width="4.0" height="9.84" fill="#ef5350"/>
<path d="M1466.5 480.90V541.88" stroke="#26a69a" stroke-width="1"/>
<rect x="1465.0" y="491.54" width="3.0" height="25.19" fill="#26a69a"/>
<path d="M1470.5 484.26V500.45" stroke="#ef5350" stroke-width="1"/>
<rect x="1469.0" y="491.54" width="3.0" height="9.41" fill="#ef5350"/>
<path d="M1473.5 486.37V505.29" stroke="#26a69a" stroke-width="1"/>
<rect x="1472.0" y="487.97" width="4.0" height="12.98" fill="#26a69a"/>
<path d="M1477.5 484.26V516.22" stroke="#ef5350" stroke-width="1"/>
<rect x="1476.0" y="487.97" width="3.0" height="28.76" fill="#ef5350"/>
<path d="M1480.5 516.22V523.59" stroke="#ef5350" stroke-width="1"/>
<rect x="1479.0" y="515.72" width="4.0" height="2.26" fill="#ef5350"/>
<path d="M1484.5 498.35V518.75" stroke="#26a69a" stroke-width="1"/>
<rect x="1483.0" y="503.10" width="3.0" height="14.88" fill="#26a69a"/>
<path d="M1488.5 495.62V521.48" stroke="#ef5350" stroke-width="1"/>
<rect x="1486.0" y="503.10" width="4.0" height="6.89" fill="#ef5350"/>
<path d="M1491.5 509.50V520.85" stroke="#ef5350" stroke-width="1"/>
<rect x="1490.0" y="509.00" width="3.0" height="5.20" fill="#ef5350"/>
<path d="M1495.5 485.10V520.44" stroke="#26a69a" stroke-width="1"/>
<rect x="1493.0" y="491.54" width="4.0" height="22.66" fill="#26a69a"/>
<path d="M1498.5 484.26V492.04" stroke="#26a69a" stroke-width="1"/>
<rect x="1497.0" y="483.76" width="4.0" height="8.78" fill="#26a69a"/>
<path d="M1502.5 461.55V484.26" stroke="#26a69a" stroke-width="1"/>
<rect x="1501.0" y="467.35" width="3.0" height="17.41" fill="#26a69a"/>
<path d="M1505.5 444.30V480.06" stroke="#26a69a" stroke-width="1"/>
<rect x="1504.0" y="465.68" width="4.0" height="2.67" fill="#26a69a"/>
<path d="M1509.5 445.14V474.16" stroke="#ef5350" stroke-width="1"/>
<rect x="1508.0" y="465.68" width="3.0" height="8.98" fill="#ef5350"/>
<path d="M1513.5 474.16V480.90" stroke="#ef5350" stroke-width="1"/>
<rect x="1511.0" y="473.66" width="4.0" height="2.06" fill="#ef5350"/>
<path d="M1516.5 451.03V477.32" stroke="#26a69a" stroke-width="1"/>
<rect x="1515.0" y="461.05" width="3.0" height="14.67" fill="#26a69a"/>
<path d="M1520.5 444.30V464.71" stroke="#26a69a" stroke-width="1"/>
<rect x="1518.0" y="458.52" width="4.0" height="3.53" fill="#26a69a"/>
<path d="M1523.5 452.71V464.71" stroke="#26a69a" stroke-width="1"/>
<rect x="1522.0" y="454.74" width="3.0" height="4.78" fill="#26a69a"/>
<path d="M1527.5 447.87V462.59" stroke="#ef5350" stroke-width="1"/>
<rect x="1526.0" y="454.74" width="3.0" height="8.36" fill="#ef5350"/>
<path d="M1530.5 442.62V468.91" stroke="#26a69a" stroke-width="1"/>
<rect x="1529.0" y="444.64" width="4.0" height="18.45" fill="#26a69a"/>
<path d="M1534.5 433.15V446.83" stroke="#26a69a" stroke-width="1"/>
<rect x="1533.0" y="438.33" width="3.0" height="7.31" fill="#26a69a"/>
<path d="M1538.5 437.36V457.34" stroke="#ef5350" stroke-width="1"/>
<rect x="1536.0" y="438.33" width="4.0" height="11.51" fill="#ef5350"/>
<path d="M1541.5 436.31V461.55" stroke="#26a69a" stroke-width="1"/>
<rect x="1540.0" y="446.74" width="3.0" height="3.10" fill="#26a69a"/>
<path d="M1545.5 439.46V454.18" stroke="#ef5350" stroke-width="1"/>
<rect x="1543.0" y="446.74" width="4.0" height="4.37" fill="#ef5350"/>
<path d="M1548.5 433.15V459.44" stroke="#26a69a" stroke-width="1"/>
<rect x="1547.0" y="435.81" width="3.0" height="15.31" fill="#26a69a"/>
<path d="M1552.5 428.32V464.71" stroke="#ef5350" stroke-width="1"/>
<rect x="1551.0" y="435.81" width="3.0" height="29.40" fill="#ef5350"/>
<path d="M1555.5 464.07V480.90" stroke="#ef5350" stroke-width="1"/>
<rect x="1554.0" y="463.57" width="4.0" height="9.00" fill="#ef5350"/>
<path d="M1559.5 466.18V478.37" stroke="#26a69a" stroke-width="1"/>
<rect x="1558.0" y="465.68" width="3.0" height="6.88" fill="#26a69a"/>
<path d="M1562.5 435.26V476.27" stroke="#26a69a" stroke-width="1"/>
<rect x="1561.0" y="434.76" width="4.0" height="31.91" fill="#26a69a"/>
<path d="M1566.5 435.26V476.27" stroke="#ef5350" stroke-width="1"/>
<rect x="1565.0" y="434.76" width="3.0" height="39.48" fill="#ef5350"/>
<path d="M1570.5 464.71V492.04" stroke="#ef5350" stroke-width="1"/>
<rect x="1568.0" y="473.24" width="4.0" height="14.45" fill="#ef5350"/>
<path d="M1573.5 481.53V502.56" stroke="#ef5350" stroke-width="1"/>
<rect x="1572.0" y="486.70" width="3.0" height="4.37" fill="#ef5350"/>
<path d="M1577.5 473.12V492.04" stroke="#26a69a" stroke-width="1"/>
<rect x="1575.0" y="475.34" width="4.0" height="15.72" fill="#26a69a"/>
<path d="M1580.5 456.92V486.37" stroke="#ef5350" stroke-width="1"/>
<rect x="1579.0" y="475.34" width="4.0" height="11.52" fill="#ef5350"/>
<path d="M1584.5 481.53V508.23" stroke="#ef5350" stroke-width="1"/>
<rect x="1583.0" y="485.87" width="3.0" height="20.76" fill="#ef5350"/>
<path d="M1587.5 498.35V522.54" stroke="#ef5350" stroke-width="1"/>
<rect x="1586.0" y="505.63" width="4.0" height="11.10" fill="#ef5350"/>
<path d="M1591.5 508.87V524.64" stroke="#26a69a" stroke-width="1"/>
<rect x="1590.0" y="514.67" width="3.0" height="2.06" fill="#26a69a"/>
<path d="M1595.5 497.72V515.60" stroke="#26a69a" stroke-width="1"/>
<rect x="1593.0" y="514.47" width="4.0" height="1.63" fill="#26a69a"/>
<path d="M1598.5 505.71V535.57" stroke="#ef5350" stroke-width="1"/>
<rect x="1597.0" y="514.67" width="3.0" height="17.83" fill="#ef5350"/>
<path d="M1602.5 529.26V593.62" stroke="#ef5350" stroke-width="1"/>
<rect x="1600.0" y="530.86" width="4.0" height="63.25" fill="#ef5350"/>
<path d="M1605.5 556.18V603.50" stroke="#26a69a" stroke-width="1"/>
<rect x="1604.0" y="558.20" width="3.0" height="35.91" fill="#26a69a"/>
<path d="M1609.5 558.70V604.97" stroke="#ef5350" stroke-width="1"/>
<rect x="1608.0" y="558.20" width="3.0" height="27.92" fill="#ef5350"/>
<path d="M1612.5 581.42V596.14" stroke="#ef5350" stroke-width="1"/>
<rect x="1611.0" y="585.12" width="4.0" height="4.16" fill="#ef5350"/>
<path d="M1616.5 579.74V600.34" stroke="#26a69a" stroke-width="1"/>
<rect x="1615.0" y="579.24" width="3.0" height="10.04" fill="#26a69a"/>
<path d="M1619.5 579.32V600.77" stroke="#26a69a" stroke-width="1"/>
<rect x="1618.0" y="578.82" width="4.0" height="1.63" fill="#26a69a"/>
<path d="M1623.5 555.13V581.84" stroke="#26a69a" stroke-width="1"/>
<rect x="1622.0" y="565.77" width="3.0" height="14.46" fill="#26a69a"/>
<path d="M1627.5 542.51V566.27" stroke="#26a69a" stroke-width="1"/>
<rect x="1625.0" y="547.69" width="4.0" height="19.08" fill="#26a69a"/>
<path d="M1630.5 538.30V554.08" stroke="#26a69a" stroke-width="1"/>
<rect x="1629.0" y="537.80" width="3.0" height="10.89" fill="#26a69a"/>
<path d="M1634.5 531.36V549.45" stroke="#26a69a" stroke-width="1"/>
<rect x="1632.0" y="530.86" width="4.0" height="7.94" fill="#26a69a"/>
<path d="M1637.5 524.22V538.30" stroke="#26a69a" stroke-width="1"/>
<rect x="1636.0" y="526.66" width="4.0" height="5.20" fill="#26a69a"/>
<path d="M1641.5 515.81V538.30" stroke="#26a69a" stroke-width="1"/>
<rect x="1640.0" y="518.88" width="3.0" height="8.78" fill="#26a69a"/>
<path d="M1644.5 507.81V524.22" stroke="#ef5350" stroke-width="1"/>
<rect x="1643.0" y="518.88" width="4.0" height="2.47" fill="#ef5350"/>
<path d="M1648.5 517.91V548.82" stroke="#ef5350" stroke-width="1"/>
<rect x="1647.0" y="520.35" width="3.0" height="24.13" fill="#ef5350"/>
<path d="M1652.5 538.30V550.92" stroke="#ef5350" stroke-width="1"/>
<rect x="1650.0" y="543.48" width="4.0" height="1.63" fill="#ef5350"/>
<path d="M1655.5 525.06V556.60" stroke="#26a69a" stroke-width="1"/>
<rect x="1654.0" y="527.92" width="3.0" height="17.19" fill="#26a69a"/>
<path d="M1659.5 522.54V533.05" stroke="#26a69a" stroke-width="1"/>
<rect x="1657.0" y="522.04" width="4.0" height="6.88" fill="#26a69a"/>
<path d="M1662.5 516.64V528.42" stroke="#ef5350" stroke-width="1"/>
<rect x="1661.0" y="522.04" width="3.0" height="6.88" fill="#ef5350"/>
<path d="M1666.5 514.12V529.89" stroke="#26a69a" stroke-width="1"/>
<rect x="1665.0" y="523.72" width="3.0" height="5.20" fill="#26a69a"/>
<path d="M1669.5 504.66V524.22" stroke="#26a69a" stroke-width="1"/>
<rect x="1668.0" y="506.26" width="4.0" height="18.46" fill="#26a69a"/>
<path d="M1673.5 506.76V535.57" stroke="#ef5350" stroke-width="1"/>
<rect x="1672.0" y="506.26" width="3.0" height="29.81" fill="#ef5350"/>
<path d="M1676.5 526.32V545.25" stroke="#ef5350" stroke-width="1"/>
<rect x="1675.0" y="535.07" width="4.0" height="9.41" fill="#ef5350"/>
<path d="M1680.5 534.10V555.76" stroke="#26a69a" stroke-width="1"/>
<rect x="1679.0" y="540.54" width="3.0" height="3.94" fill="#26a69a"/>
<path d="M1684.5 519.38V545.25" stroke="#26a69a" stroke-width="1"/>
<rect x="1682.0" y="522.45" width="4.0" height="19.09" fill="#26a69a"/>
<path d="M1687.5 520.85V533.05" stroke="#ef5350" stroke-width="1"/>
<rect x="1686.0" y="522.45" width="3.0" height="5.84" fill="#ef5350"/>
<path d="M1691.5 498.35V535.57" stroke="#26a69a" stroke-width="1"/>
<rect x="1689.0" y="497.85" width="4.0" height="30.44" fill="#26a69a"/>
<path d="M1694.5 498.35V515.81" stroke="#ef5350" stroke-width="1"/>
<rect x="1693.0" y="497.85" width="4.0" height="5.21" fill="#ef5350"/>
<path d="M1698.5 484.26V504.66" stroke="#26a69a" stroke-width="1"/>
<rect x="1697.0" y="496.79" width="3.0" height="6.27" fill="#26a69a"/>
<path d="M1701.5 497.29V517.28" stroke="#ef5350" stroke-width="1"/>
<rect x="1700.0" y="496.79" width="4.0" height="18.88" fill="#ef5350"/>
<path d="M1705.5 507.81V520.44" stroke="#ef5350" stroke-width="1"/>
<rect x="1704.0" y="514.67" width="3.0" height="3.74" fill="#ef5350"/>
<path d="M1709.5 500.45V519.38" stroke="#ef5350" stroke-width="1"/>
<rect x="1707.0" y="517.41" width="4.0" height="2.47" fill="#ef5350"/>
<path d="M1712.5 502.56V528.42" stroke="#26a69a" stroke-width="1"/>
<rect x="1711.0" y="502.06" width="3.0" height="17.82" fill="#26a69a"/>
<path d="M1716.5 498.35V508.87" stroke="#26a69a" stroke-width="1"/>
<rect x="1714.0" y="498.90" width="4.0" height="4.16" fill="#26a69a"/>
<path d="M1719.5 499.40V522.11" stroke="#ef5350" stroke-width="1"/>
<rect x="1718.0" y="498.90" width="4.0" height="22.45" fill="#ef5350"/>
<path d="M1723.5 488.88V526.32" stroke="#26a69a" stroke-width="1"/>
<rect x="1722.0" y="490.49" width="3.0" height="30.86" fill="#26a69a"/>
<path d="M1726.5 485.10V497.72" stroke="#ef5350" stroke-width="1"/>
<rect x="1725.0" y="490.49" width="4.0" height="3.52" fill="#ef5350"/>
<path d="M1730.5 483.63V493.51" stroke="#26a69a" stroke-width="1"/>
<rect x="1729.0" y="485.23" width="3.0" height="8.78" fill="#26a69a"/>
<path d="M1734.5 476.27V499.40" stroke="#ef5350" stroke-width="1"/>
<rect x="1732.0" y="485.23" width="4.0" height="14.68" fill="#ef5350"/>
<path d="M1737.5 480.06V499.40" stroke="#26a69a" stroke-width="1"/>
<rect x="1736.0" y="484.60" width="3.0" height="15.31" fill="#26a69a"/>
<path d="M1741.5 481.53V495.62" stroke="#ef5350" stroke-width="1"/>
<rect x="1739.0" y="484.60" width="4.0" height="11.52" fill="#ef5350"/>
<path d="M1744.5 480.47V495.62" stroke="#26a69a" stroke-width="1"/>
<rect x="1743.0" y="479.97" width="3.0" height="16.15" fill="#26a69a"/>
<path d="M1748.5 469.96V485.10" stroke="#ef5350" stroke-width="1"/>
<rect x="1747.0" y="479.97" width="3.0" height="4.16" fill="#ef5350"/>
<path d="M1751.5 477.94V494.15" stroke="#ef5350" stroke-width="1"/>
<rect x="1750.0" y="483.13" width="4.0" height="11.52" fill="#ef5350"/>
<path d="M1755.5 494.15V508.87" stroke="#ef5350" stroke-width="1"/>
<rect x="1754.0" y="493.65" width="3.0" height="15.72" fill="#ef5350"/>
<path d="M1758.5 506.76V514.54" stroke="#ef5350" stroke-width="1"/>
<rect x="1757.0" y="508.37" width="4.0" height="3.10" fill="#ef5350"/>
<path d="M1762.5 483.63V510.97" stroke="#26a69a" stroke-width="1"/>
<rect x="1761.0" y="490.07" width="3.0" height="21.40" fill="#26a69a"/>
<path d="M1766.5 490.57V501.50" stroke="#ef5350" stroke-width="1"/>
<rect x="1764.0" y="490.07" width="4.0" height="11.94" fill="#ef5350"/>
<path d="M1769.5 499.82V507.39" stroke="#ef5350" stroke-width="1"/>
<rect x="1768.0" y="501.00" width="3.0" height="2.06" fill="#ef5350"/>
<path d="M1773.5 501.92V525.69" stroke="#ef5350" stroke-width="1"/>
<rect x="1771.0" y="501.42" width="4.0" height="24.77" fill="#ef5350"/>
<path d="M1776.5 501.72V527.16" stroke="#26a69a" stroke-width="1"/>
<rect x="1775.0" y="511.94" width="4.0" height="14.25" fill="#26a69a"/>
<path d="M1780.5 501.09V512.44" stroke="#26a69a" stroke-width="1"/>
<rect x="1779.0" y="500.59" width="3.0" height="12.35" fill="#26a69a"/>
<path d="M1783.5 501.09V519.38" stroke="#ef5350" stroke-width="1"/>
<rect x="1782.0" y="500.59" width="4.0" height="19.29" fill="#ef5350"/>
<path d="M1787.5 517.91V535.57" stroke="#ef5350" stroke-width="1"/>
<rect x="1786.0" y="518.88" width="3.0" height="11.51" fill="#ef5350"/>
</g>
<g fill="#777777">
<rect x="15.96" y="804.90" width="2.3" height="3.50"/>
<rect x="19.52" y="797.40" width="2.3" height="11.00"/>
<rect x="23.09" y="806.00" width="2.3" height="2.40"/>
<rect x="26.65" y="806.00" width="2.3" height="2.40"/>
<rect x="30.22" y="806.00" width="2.3" height="2.40"/>
<rect x="33.78" y="806.40" width="2.3" height="2.00"/>
<rect x="37.34" y="806.90" width="2.3" height="1.50"/>
<rect x="40.91" y="804.40" width="2.3" height="4.00"/>
<rect x="44.47" y="806.40" width="2.3" height="2.00"/>
<rect x="48.03" y="806.40" width="2.3" height="2.00"/>
<rect x="51.60" y="804.00" width="2.3" height="4.40"/>
<rect x="55.16" y="804.40" width="2.3" height="4.00"/>
<rect x="58.73" y="804.80" width="2.3" height="3.60"/>
<rect x="62.29" y="781.40" width="2.3" height="27.00"/>
<rect x="65.85" y="792.40" width="2.3" height="16.00"/>
<rect x="69.42" y="796.10" width="2.3" height="12.30"/>
<rect x="72.98" y="802.40" width="2.3" height="6.00"/>
<rect x="76.54" y="802.10" width="2.3" height="6.30"/>
<rect x="80.11" y="801.60" width="2.3" height="6.80"/>
<rect x="83.67" y="790.60" width="2.3" height="17.80"/>
<rect x="87.24" y="795.40" width="2.3" height="13.00"/>
<rect x="90.80" y="803.20" width="2.3" height="5.20"/>
<rect x="94.36" y="802.10" width="2.3" height="6.30"/>
<rect x="97.93" y="805.20" width="2.3" height="3.20"/>
<rect x="101.49" y="806.00" width="2.3" height="2.40"/>
<rect x="105.06" y="805.20" width="2.3" height="3.20"/>
<rect x="108.62" y="805.20" width="2.3" height="3.20"/>
<rect x="112.18" y="806.40" width="2.3" height="2.00"/>
<rect x="115.75" y="805.60" width="2.3" height="2.80"/>
<rect x="119.31" y="804.00" width="2.3" height="4.40"/>
<rect x="122.87" y="803.20" width="2.3" height="5.20"/>
<rect x="126.44" y="803.70" width="2.3" height="4.70"/>
<rect x="130.00" y="804.80" width="2.3" height="3.60"/>
<rect x="133.57" y="757.60" width="2.3" height="50.80"/>
<rect x="137.13" y="781.40" width="2.3" height="27.00"/>
<rect x="140.69" y="795.00" width="2.3" height="13.40"/>
<rect x="144.26" y="800.20" width="2.3" height="8.20"/>
<rect x="147.82" y="797.00" width="2.3" height="11.40"/>
<rect x="151.38" y="805.20" width="2.3" height="3.20"/>
<rect x="154.95" y="805.20" width="2.3" height="3.20"/>
<rect x="158.51" y="803.70" width="2.3" height="4.70"/>
<rect x="162.08" y="803.40" width="2.3" height="5.00"/>
<rect x="165.64" y="802.90" width="2.3" height="5.50"/>
<rect x="169.20" y="803.20" width="2.3" height="5.20"/>
<rect x="172.77" y="803.20" width="2.3" height="5.20"/>
<rect x="176.33" y="806.40" width="2.3" height="2.00"/>
<rect x="179.89" y="805.09" width="2.3" height="3.31"/>
<rect x="183.46" y="804.28" width="2.3" height="4.12"/>
<rect x="187.02" y="805.74" width="2.3" height="2.66"/>
<rect x="190.59" y="805.58" width="2.3" height="2.82"/>
<rect x="194.15" y="805.87" width="2.3" height="2.53"/>
<rect x="197.71" y="804.74" width="2.3" height="3.66"/>
<rect x="201.28" y="803.16" width="2.3" height="5.24"/>
<rect x="204.84" y="804.01" width="2.3" height="4.39"/>
<rect x="208.41" y="805.68" width="2.3" height="2.72"/>
<rect x="211.97" y="806.43" width="2.3" height="1.97"/>
<rect x="215.53" y="807.18" width="2.3" height="1.22"/>
<rect x="219.10" y="806.92" width="2.3" height="1.48"/>
<rect x="222.66" y="805.44" width="2.3" height="2.96"/>
<rect x="226.22" y="806.47" width="2.3" height="1.93"/>
<rect x="229.79" y="804.51" width="2.3" height="3.89"/>
<rect x="233.35" y="806.47" width="2.3" height="1.93"/>
<rect x="236.92" y="802.99" width="2.3" height="5.41"/>
<rect x="240.48" y="804.41" width="2.3" height="3.99"/>
<rect x="244.04" y="806.11" width="2.3" height="2.29"/>
<rect x="247.61" y="805.53" width="2.3" height="2.87"/>
<rect x="251.17" y="807.18" width="2.3" height="1.22"/>
<rect x="254.73" y="806.02" width="2.3" height="2.38"/>
<rect x="258.30" y="806.92" width="2.3" height="1.48"/>
<rect x="261.86" y="807.11" width="2.3" height="1.29"/>
<rect x="265.43" y="806.78" width="2.3" height="1.62"/>
<rect x="268.99" y="804.86" width="2.3" height="3.54"/>
<rect x="272.55" y="806.08" width="2.3" height="2.32"/>
<rect x="276.12" y="804.92" width="2.3" height="3.48"/>
<rect x="279.68" y="806.52" width="2.3" height="1.88"/>
<rect x="283.25" y="807.18" width="2.3" height="1.22"/>
<rect x="286.81" y="806.01" width="2.3" height="2.39"/>
<rect x="290.37" y="806.35" width="2.3" height="2.05"/>
<rect x="293.94" y="807.21" width="2.3" height="1.19"/>
<rect x="297.50" y="807.00" width="2.3" height="1.40"/>
<rect x="301.06" y="805.94" width="2.3" height="2.46"/>
<rect x="304.63" y="806.58" width="2.3" height="1.82"/>
<rect x="308.19" y="806.55" width="2.3" height="1.85"/>
<rect x="311.76" y="806.54" width="2.3" height="1.86"/>
<rect x="315.32" y="806.73" width="2.3" height="1.67"/>
<rect x="318.88" y="807.45" width="2.3" height="0.95"/>
<rect x="322.45" y="807.09" width="2.3" height="1.31"/>
<rect x="326.01" y="807.49" width="2.3" height="0.91"/>
<rect x="329.57" y="806.14" width="2.3" height="2.26"/>
<rect x="333.14" y="804.90" width="2.3" height="3.50"/>
<rect x="336.70" y="800.80" width="2.3" height="7.60"/>
<rect x="340.27" y="804.40" width="2.3" height="4.00"/>
<rect x="343.83" y="803.10" width="2.3" height="5.30"/>
<rect x="347.39" y="805.49" width="2.3" height="2.91"/>
<rect x="350.96" y="806.54" width="2.3" height="1.86"/>
<rect x="354.52" y="807.00" width="2.3" height="1.40"/>
<rect x="358.08" y="806.24" width="2.3" height="2.16"/>
<rect x="361.65" y="804.69" width="2.3" height="3.71"/>
<rect x="365.21" y="806.00" width="2.3" height="2.40"/>
<rect x="368.78" y="806.76" width="2.3" height="1.64"/>
<rect x="372.34" y="806.10" width="2.3" height="2.30"/>
<rect x="375.90" y="806.56" width="2.3" height="1.84"/>
<rect x="379.47" y="806.79" width="2.3" height="1.61"/>
<rect x="383.03" y="806.33" width="2.3" height="2.07"/>
<rect x="386.60" y="807.40" width="2.3" height="1.00"/>
<rect x="390.16" y="806.45" width="2.3" height="1.95"/>
<rect x="393.72" y="806.76" width="2.3" height="1.64"/>
<rect x="397.29" y="807.61" width="2.3" height="0.79"/>
<rect x="400.85" y="807.70" width="2.3" height="0.70"/>
<rect x="404.41" y="807.11" width="2.3" height="1.29"/>
<rect x="407.98" y="806.52" width="2.3" height="1.88"/>
<rect x="411.54" y="805.75" width="2.3" height="2.65"/>
<rect x="415.11" y="806.65" width="2.3" height="1.75"/>
<rect x="418.67" y="807.27" width="2.3" height="1.13"/>
<rect x="422.23" y="805.27" width="2.3" height="3.13"/>
<rect x="425.80" y="805.87" width="2.3" height="2.53"/>
<rect x="429.36" y="806.73" width="2.3" height="1.67"/>
<rect x="432.92" y="807.00" width="2.3" height="1.40"/>
<rect x="436.49" y="807.61" width="2.3" height="0.79"/>
<rect x="440.05" y="807.49" width="2.3" height="0.91"/>
<rect x="443.62" y="807.62" width="2.3" height="0.78"/>
<rect x="447.18" y="806.55" width="2.3" height="1.85"/>
<rect x="450.74" y="807.20" width="2.3" height="1.20"/>
<rect x="454.31" y="807.46" width="2.3" height="0.94"/>
<rect x="457.87" y="807.34" width="2.3" height="1.06"/>
<rect x="461.44" y="807.51" width="2.3" height="0.89"/>
<rect x="465.00" y="807.70" width="2.3" height="0.70"/>
<rect x="468.56" y="806.77" width="2.3" height="1.63"/>
<rect x="472.13" y="804.90" width="2.3" height="3.50"/>
<rect x="475.69" y="807.03" width="2.3" height="1.37"/>
<rect x="479.25" y="806.84" width="2.3" height="1.56"/>
<rect x="482.82" y="807.40" width="2.3" height="1.00"/>
<rect x="486.38" y="807.40" width="2.3" height="1.00"/>
<rect x="489.95" y="806.86" width="2.3" height="1.54"/>
<rect x="493.51" y="807.22" width="2.3" height="1.18"/>
<rect x="497.07" y="807.20" width="2.3" height="1.20"/>
<rect x="500.64" y="807.33" width="2.3" height="1.07"/>
<rect x="504.20" y="807.31" width="2.3" height="1.09"/>
<rect x="507.76" y="807.48" width="2.3" height="0.92"/>
<rect x="511.33" y="806.31" width="2.3" height="2.09"/>
<rect x="514.89" y="803.96" width="2.3" height="4.44"/>
<rect x="518.46" y="806.38" width="2.3" height="2.02"/>
<rect x="522.02" y="805.71" width="2.3" height="2.69"/>
<rect x="525.58" y="802.40" width="2.3" height="6.00"/>
<rect x="529.15" y="805.49" width="2.3" height="2.91"/>
<rect x="532.71" y="805.44" width="2.3" height="2.96"/>
<rect x="536.27" y="805.29" width="2.3" height="3.11"/>
<rect x="539.84" y="806.30" width="2.3" height="2.10"/>
<rect x="543.40" y="806.29" width="2.3" height="2.11"/>
<rect x="546.97" y="807.32" width="2.3" height="1.08"/>
<rect x="550.53" y="807.45" width="2.3" height="0.95"/>
<rect x="554.09" y="807.10" width="2.3" height="1.30"/>
<rect x="557.66" y="806.60" width="2.3" height="1.80"/>
<rect x="561.22" y="806.93" width="2.3" height="1.47"/>
<rect x="564.79" y="805.85" width="2.3" height="2.55"/>
<rect x="568.35" y="806.91" width="2.3" height="1.49"/>
<rect x="571.91" y="806.37" width="2.3" height="2.03"/>
<rect x="575.48" y="806.63" width="2.3" height="1.77"/>
<rect x="579.04" y="806.70" width="2.3" height="1.70"/>
<rect x="582.60" y="805.13" width="2.3" height="3.27"/>
<rect x="586.17" y="806.66" width="2.3" height="1.74"/>
<rect x="589.73" y="806.59" width="2.3" height="1.81"/>
<rect x="593.30" y="807.34" width="2.3" height="1.06"/>
<rect x="596.86" y="806.79" width="2.3" height="1.61"/>
<rect x="600.42" y="807.19" width="2.3" height="1.21"/>
<rect x="603.99" y="807.23" width="2.3" height="1.17"/>
<rect x="607.55" y="807.40" width="2.3" height="1.00"/>
<rect x="611.11" y="807.40" width="2.3" height="1.00"/>
<rect x="614.68" y="806.33" width="2.3" height="2.07"/>
<rect x="618.24" y="806.91" width="2.3" height="1.49"/>
<rect x="621.81" y="807.40" width="2.3" height="1.00"/>
<rect x="625.37" y="807.28" width="2.3" height="1.12"/>
<rect x="628.93" y="807.07" width="2.3" height="1.33"/>
<rect x="632.50" y="807.58" width="2.3" height="0.82"/>
<rect x="636.06" y="807.48" width="2.3" height="0.92"/>
<rect x="639.62" y="806.76" width="2.3" height="1.64"/>
<rect x="643.19" y="806.66" width="2.3" height="1.74"/>
<rect x="646.75" y="807.30" width="2.3" height="1.10"/>
<rect x="650.32" y="806.06" width="2.3" height="2.34"/>
<rect x="653.88" y="807.03" width="2.3" height="1.37"/>
<rect x="657.44" y="807.48" width="2.3" height="0.92"/>
<rect x="661.01" y="807.36" width="2.3" height="1.04"/>
<rect x="664.57" y="807.16" width="2.3" height="1.24"/>
<rect x="668.14" y="807.13" width="2.3" height="1.27"/>
<rect x="671.70" y="806.98" width="2.3" height="1.42"/>
<rect x="675.26" y="807.10" width="2.3" height="1.30"/>
<rect x="678.83" y="807.29" width="2.3" height="1.11"/>
<rect x="682.39" y="804.40" width="2.3" height="4.00"/>
<rect x="685.95" y="806.08" width="2.3" height="2.32"/>
<rect x="689.52" y="807.12" width="2.3" height="1.28"/>
<rect x="693.08" y="807.56" width="2.3" height="0.84"/>
<rect x="696.65" y="806.89" width="2.3" height="1.51"/>
<rect x="700.21" y="807.09" width="2.3" height="1.31"/>
<rect x="703.77" y="806.66" width="2.3" height="1.74"/>
<rect x="707.34" y="806.88" width="2.3" height="1.52"/>
<rect x="710.90" y="806.76" width="2.3" height="1.64"/>
<rect x="714.46" y="806.64" width="2.3" height="1.76"/>
<rect x="718.03" y="806.52" width="2.3" height="1.88"/>
<rect x="721.59" y="807.54" width="2.3" height="0.86"/>
<rect x="725.16" y="807.32" width="2.3" height="1.08"/>
<rect x="728.72" y="807.70" width="2.3" height="0.70"/>
<rect x="732.28" y="807.60" width="2.3" height="0.80"/>
<rect x="735.85" y="805.91" width="2.3" height="2.49"/>
<rect x="739.41" y="799.40" width="2.3" height="9.00"/>
<rect x="742.98" y="805.40" width="2.3" height="3.00"/>
<rect x="746.54" y="805.90" width="2.3" height="2.50"/>
<rect x="750.10" y="802.90" width="2.3" height="5.50"/>
<rect x="753.67" y="806.40" width="2.3" height="2.00"/>
<rect x="757.23" y="805.90" width="2.3" height="2.50"/>
<rect x="760.79" y="800.90" width="2.3" height="7.50"/>
<rect x="764.36" y="805.40" width="2.3" height="3.00"/>
<rect x="767.92" y="803.40" width="2.3" height="5.00"/>
<rect x="771.49" y="805.40" width="2.3" height="3.00"/>
<rect x="775.05" y="805.90" width="2.3" height="2.50"/>
<rect x="778.61" y="806.82" width="2.3" height="1.58"/>
<rect x="782.18" y="803.90" width="2.3" height="4.50"/>
<rect x="785.74" y="805.90" width="2.3" height="2.50"/>
<rect x="789.30" y="804.40" width="2.3" height="4.00"/>
<rect x="792.87" y="803.40" width="2.3" height="5.00"/>
<rect x="796.43" y="806.63" width="2.3" height="1.77"/>
<rect x="800.00" y="807.02" width="2.3" height="1.38"/>
<rect x="803.56" y="807.58" width="2.3" height="0.82"/>
<rect x="807.12" y="807.38" width="2.3" height="1.02"/>
<rect x="810.69" y="803.70" width="2.3" height="4.70"/>
<rect x="814.25" y="799.40" width="2.3" height="9.00"/>
<rect x="817.82" y="798.90" width="2.3" height="9.50"/>
<rect x="821.38" y="803.70" width="2.3" height="4.70"/>
<rect x="824.94" y="804.70" width="2.3" height="3.70"/>
<rect x="828.51" y="805.40" width="2.3" height="3.00"/>
<rect x="832.07" y="805.90" width="2.3" height="2.50"/>
<rect x="835.63" y="803.70" width="2.3" height="4.70"/>
<rect x="839.20" y="804.90" width="2.3" height="3.50"/>
<rect x="842.76" y="804.90" width="2.3" height="3.50"/>
<rect x="846.33" y="805.90" width="2.3" height="2.50"/>
<rect x="849.89" y="805.40" width="2.3" height="3.00"/>
<rect x="853.45" y="803.70" width="2.3" height="4.70"/>
<rect x="857.02" y="793.70" width="2.3" height="14.70"/>
<rect x="860.58" y="804.70" width="2.3" height="3.70"/>
<rect x="864.14" y="803.70" width="2.3" height="4.70"/>
<rect x="867.71" y="805.90" width="2.3" height="2.50"/>
<rect x="871.27" y="807.34" width="2.3" height="1.06"/>
<rect x="874.84" y="807.10" width="2.3" height="1.30"/>
<rect x="878.40" y="805.81" width="2.3" height="2.59"/>
<rect x="881.96" y="806.80" width="2.3" height="1.60"/>
<rect x="885.53" y="807.30" width="2.3" height="1.10"/>
<rect x="889.09" y="807.60" width="2.3" height="0.80"/>
<rect x="892.65" y="807.57" width="2.3" height="0.83"/>
<rect x="896.22" y="807.23" width="2.3" height="1.17"/>
<rect x="899.78" y="805.04" width="2.3" height="3.36"/>
<rect x="903.35" y="807.14" width="2.3" height="1.26"/>
<rect x="906.91" y="807.36" width="2.3" height="1.04"/>
<rect x="910.47" y="807.15" width="2.3" height="1.25"/>
<rect x="914.04" y="807.49" width="2.3" height="0.91"/>
<rect x="917.60" y="807.21" width="2.3" height="1.19"/>
<rect x="921.17" y="807.59" width="2.3" height="0.81"/>
<rect x="924.73" y="807.69" width="2.3" height="0.71"/>
<rect x="928.29" y="806.60" width="2.3" height="1.80"/>
<rect x="931.86" y="806.96" width="2.3" height="1.44"/>
<rect x="935.42" y="807.04" width="2.3" height="1.36"/>
<rect x="938.98" y="806.68" width="2.3" height="1.72"/>
<rect x="942.55" y="807.53" width="2.3" height="0.87"/>
<rect x="946.11" y="807.60" width="2.3" height="0.80"/>
<rect x="949.68" y="807.65" width="2.3" height="0.75"/>
<rect x="953.24" y="807.10" width="2.3" height="1.30"/>
<rect x="956.80" y="806.60" width="2.3" height="1.80"/>
<rect x="960.37" y="803.40" width="2.3" height="5.00"/>
<rect x="963.93" y="802.60" width="2.3" height="5.80"/>
<rect x="967.49" y="801.60" width="2.3" height="6.80"/>
<rect x="971.06" y="802.10" width="2.3" height="6.30"/>
<rect x="974.62" y="805.51" width="2.3" height="2.89"/>
<rect x="978.19" y="806.58" width="2.3" height="1.82"/>
<rect x="981.75" y="806.68" width="2.3" height="1.72"/>
<rect x="985.31" y="807.16" width="2.3" height="1.24"/>
<rect x="988.88" y="807.07" width="2.3" height="1.33"/>
<rect x="992.44" y="807.51" width="2.3" height="0.89"/>
<rect x="996.01" y="807.35" width="2.3" height="1.05"/>
<rect x="999.57" y="807.05" width="2.3" height="1.35"/>
<rect x="1003.13" y="807.10" width="2.3" height="1.30"/>
<rect x="1006.70" y="807.10" width="2.3" height="1.30"/>
<rect x="1010.26" y="807.55" width="2.3" height="0.85"/>
<rect x="1013.82" y="807.16" width="2.3" height="1.24"/>
<rect x="1017.39" y="807.55" width="2.3" height="0.85"/>
<rect x="1020.95" y="807.70" width="2.3" height="0.70"/>
<rect x="1024.52" y="807.65" width="2.3" height="0.75"/>
<rect x="1028.08" y="807.59" width="2.3" height="0.81"/>
<rect x="1031.64" y="806.07" width="2.3" height="2.33"/>
<rect x="1035.21" y="806.81" width="2.3" height="1.59"/>
<rect x="1038.77" y="807.03" width="2.3" height="1.37"/>
<rect x="1042.33" y="804.20" width="2.3" height="4.20"/>
<rect x="1045.90" y="783.70" width="2.3" height="24.70"/>
<rect x="1049.46" y="800.30" width="2.3" height="8.10"/>
<rect x="1053.03" y="805.90" width="2.3" height="2.50"/>
<rect x="1056.59" y="804.20" width="2.3" height="4.20"/>
<rect x="1060.15" y="806.01" width="2.3" height="2.39"/>
<rect x="1063.72" y="806.88" width="2.3" height="1.52"/>
<rect x="1067.28" y="805.84" width="2.3" height="2.56"/>
<rect x="1070.84" y="806.04" width="2.3" height="2.36"/>
<rect x="1074.41" y="805.87" width="2.3" height="2.53"/>
<rect x="1077.97" y="807.00" width="2.3" height="1.40"/>
<rect x="1081.54" y="807.18" width="2.3" height="1.22"/>
<rect x="1085.10" y="807.57" width="2.3" height="0.83"/>
<rect x="1088.66" y="803.70" width="2.3" height="4.70"/>
<rect x="1092.23" y="803.70" width="2.3" height="4.70"/>
<rect x="1095.79" y="804.90" width="2.3" height="3.50"/>
<rect x="1099.36" y="803.40" width="2.3" height="5.00"/>
<rect x="1102.92" y="803.10" width="2.3" height="5.30"/>
<rect x="1106.48" y="805.40" width="2.3" height="3.00"/>
<rect x="1110.05" y="804.20" width="2.3" height="4.20"/>
<rect x="1113.61" y="804.20" width="2.3" height="4.20"/>
<rect x="1117.17" y="804.84" width="2.3" height="3.56"/>
<rect x="1120.74" y="803.95" width="2.3" height="4.45"/>
<rect x="1124.30" y="804.96" width="2.3" height="3.44"/>
<rect x="1127.87" y="802.90" width="2.3" height="5.50"/>
<rect x="1131.43" y="804.40" width="2.3" height="4.00"/>
<rect x="1134.99" y="799.70" width="2.3" height="8.70"/>
<rect x="1138.56" y="803.70" width="2.3" height="4.70"/>
<rect x="1142.12" y="804.90" width="2.3" height="3.50"/>
<rect x="1145.68" y="797.60" width="2.3" height="10.80"/>
<rect x="1149.25" y="801.60" width="2.3" height="6.80"/>
<rect x="1152.81" y="803.10" width="2.3" height="5.30"/>
<rect x="1156.38" y="804.90" width="2.3" height="3.50"/>
<rect x="1159.94" y="806.78" width="2.3" height="1.62"/>
<rect x="1163.50" y="806.73" width="2.3" height="1.67"/>
<rect x="1167.07" y="803.10" width="2.3" height="5.30"/>
<rect x="1170.63" y="798.10" width="2.3" height="10.30"/>
<rect x="1174.20" y="805.00" width="2.3" height="3.40"/>
<rect x="1177.76" y="806.31" width="2.3" height="2.09"/>
<rect x="1181.32" y="807.09" width="2.3" height="1.31"/>
<rect x="1184.89" y="807.62" width="2.3" height="0.78"/>
<rect x="1188.45" y="804.20" width="2.3" height="4.20"/>
<rect x="1192.01" y="807.05" width="2.3" height="1.35"/>
<rect x="1195.58" y="779.20" width="2.3" height="29.20"/>
<rect x="1199.14" y="793.20" width="2.3" height="15.20"/>
<rect x="1202.71" y="803.10" width="2.3" height="5.30"/>
<rect x="1206.27" y="802.90" width="2.3" height="5.50"/>
<rect x="1209.83" y="804.20" width="2.3" height="4.20"/>
<rect x="1213.40" y="804.20" width="2.3" height="4.20"/>
<rect x="1216.96" y="801.00" width="2.3" height="7.40"/>
<rect x="1220.52" y="805.50" width="2.3" height="2.90"/>
<rect x="1224.09" y="806.33" width="2.3" height="2.07"/>
<rect x="1227.65" y="806.20" width="2.3" height="2.20"/>
<rect x="1231.22" y="806.68" width="2.3" height="1.72"/>
<rect x="1234.78" y="807.31" width="2.3" height="1.09"/>
<rect x="1238.34" y="806.65" width="2.3" height="1.75"/>
<rect x="1241.91" y="804.75" width="2.3" height="3.65"/>
<rect x="1245.47" y="803.10" width="2.3" height="5.30"/>
<rect x="1249.03" y="802.40" width="2.3" height="6.00"/>
<rect x="1252.60" y="805.97" width="2.3" height="2.43"/>
<rect x="1256.16" y="806.04" width="2.3" height="2.36"/>
<rect x="1259.73" y="807.13" width="2.3" height="1.27"/>
<rect x="1263.29" y="806.33" width="2.3" height="2.07"/>
<rect x="1266.85" y="807.01" width="2.3" height="1.39"/>
<rect x="1270.42" y="807.32" width="2.3" height="1.08"/>
<rect x="1273.98" y="806.06" width="2.3" height="2.34"/>
<rect x="1277.55" y="806.96" width="2.3" height="1.44"/>
<rect x="1281.11" y="807.17" width="2.3" height="1.23"/>
<rect x="1284.67" y="806.63" width="2.3" height="1.77"/>
<rect x="1288.24" y="806.52" width="2.3" height="1.88"/>
<rect x="1291.80" y="806.81" width="2.3" height="1.59"/>
<rect x="1295.36" y="806.77" width="2.3" height="1.63"/>
<rect x="1298.93" y="807.53" width="2.3" height="0.87"/>
<rect x="1302.49" y="807.36" width="2.3" height="1.04"/>
<rect x="1306.06" y="807.69" width="2.3" height="0.71"/>
<rect x="1309.62" y="807.06" width="2.3" height="1.34"/>
<rect x="1313.18" y="807.12" width="2.3" height="1.28"/>
<rect x="1316.75" y="805.77" width="2.3" height="2.63"/>
<rect x="1320.31" y="806.98" width="2.3" height="1.42"/>
<rect x="1323.87" y="807.21" width="2.3" height="1.19"/>
<rect x="1327.44" y="806.67" width="2.3" height="1.73"/>
<rect x="1331.00" y="806.39" width="2.3" height="2.01"/>
<rect x="1334.57" y="807.05" width="2.3" height="1.35"/>
<rect x="1338.13" y="807.22" width="2.3" height="1.18"/>
<rect x="1341.69" y="807.63" width="2.3" height="0.77"/>
<rect x="1345.26" y="806.29" width="2.3" height="2.11"/>
<rect x="1348.82" y="807.23" width="2.3" height="1.17"/>
<rect x="1352.38" y="804.20" width="2.3" height="4.20"/>
<rect x="1355.95" y="804.90" width="2.3" height="3.50"/>
<rect x="1359.51" y="804.74" width="2.3" height="3.66"/>
<rect x="1363.08" y="805.36" width="2.3" height="3.04"/>
<rect x="1366.64" y="805.63" width="2.3" height="2.77"/>
<rect x="1370.20" y="806.88" width="2.3" height="1.52"/>
<rect x="1373.77" y="807.43" width="2.3" height="0.97"/>
<rect x="1377.33" y="807.58" width="2.3" height="0.82"/>
<rect x="1380.90" y="807.48" width="2.3" height="0.92"/>
<rect x="1384.46" y="807.56" width="2.3" height="0.84"/>
<rect x="1388.02" y="807.51" width="2.3" height="0.89"/>
<rect x="1391.59" y="807.24" width="2.3" height="1.16"/>
<rect x="1395.15" y="807.49" width="2.3" height="0.91"/>
<rect x="1398.71" y="807.56" width="2.3" height="0.84"/>
<rect x="1402.28" y="807.55" width="2.3" height="0.85"/>
<rect x="1405.84" y="807.45" width="2.3" height="0.95"/>
<rect x="1409.41" y="807.70" width="2.3" height="0.70"/>
<rect x="1412.97" y="807.64" width="2.3" height="0.76"/>
<rect x="1416.53" y="806.87" width="2.3" height="1.53"/>
<rect x="1420.10" y="807.56" width="2.3" height="0.84"/>
<rect x="1423.66" y="805.20" width="2.3" height="3.20"/>
<rect x="1427.22" y="807.55" width="2.3" height="0.85"/>
<rect x="1430.79" y="807.40" width="2.3" height="1.00"/>
<rect x="1434.35" y="806.83" width="2.3" height="1.57"/>
<rect x="1437.92" y="806.85" width="2.3" height="1.55"/>
<rect x="1441.48" y="805.67" width="2.3" height="2.73"/>
<rect x="1445.04" y="806.58" width="2.3" height="1.82"/>
<rect x="1448.61" y="803.56" width="2.3" height="4.84"/>
<rect x="1452.17" y="804.80" width="2.3" height="3.60"/>
<rect x="1455.74" y="806.48" width="2.3" height="1.92"/>
<rect x="1459.30" y="806.72" width="2.3" height="1.68"/>
<rect x="1462.86" y="807.00" width="2.3" height="1.40"/>
<rect x="1466.43" y="804.40" width="2.3" height="4.00"/>
<rect x="1469.99" y="807.05" width="2.3" height="1.35"/>
<rect x="1473.55" y="807.48" width="2.3" height="0.92"/>
<rect x="1477.12" y="807.10" width="2.3" height="1.30"/>
<rect x="1480.68" y="807.70" width="2.3" height="0.70"/>
<rect x="1484.25" y="807.61" width="2.3" height="0.79"/>
<rect x="1487.81" y="807.39" width="2.3" height="1.01"/>
<rect x="1491.37" y="807.70" width="2.3" height="0.70"/>
<rect x="1494.94" y="807.00" width="2.3" height="1.40"/>
<rect x="1498.50" y="807.70" width="2.3" height="0.70"/>
<rect x="1502.06" y="807.53" width="2.3" height="0.87"/>
<rect x="1505.63" y="806.92" width="2.3" height="1.48"/>
<rect x="1509.19" y="807.09" width="2.3" height="1.31"/>
<rect x="1512.76" y="807.70" width="2.3" height="0.70"/>
<rect x="1516.32" y="807.41" width="2.3" height="0.99"/>
<rect x="1519.88" y="807.53" width="2.3" height="0.87"/>
<rect x="1523.45" y="807.70" width="2.3" height="0.70"/>
<rect x="1527.01" y="807.70" width="2.3" height="0.70"/>
<rect x="1530.58" y="807.41" width="2.3" height="0.99"/>
<rect x="1534.14" y="807.70" width="2.3" height="0.70"/>
<rect x="1537.70" y="807.62" width="2.3" height="0.78"/>
<rect x="1541.27" y="807.42" width="2.3" height="0.98"/>
<rect x="1544.83" y="807.68" width="2.3" height="0.72"/>
<rect x="1548.39" y="807.39" width="2.3" height="1.01"/>
<rect x="1551.96" y="806.85" width="2.3" height="1.55"/>
<rect x="1555.52" y="807.49" width="2.3" height="0.91"/>
<rect x="1559.09" y="807.70" width="2.3" height="0.70"/>
<rect x="1562.65" y="806.68" width="2.3" height="1.72"/>
<rect x="1566.21" y="806.41" width="2.3" height="1.99"/>
<rect x="1569.78" y="807.03" width="2.3" height="1.37"/>
<rect x="1573.34" y="807.42" width="2.3" height="0.98"/>
<rect x="1576.90" y="807.58" width="2.3" height="0.82"/>
<rect x="1580.47" y="807.24" width="2.3" height="1.16"/>
<rect x="1584.03" y="807.26" width="2.3" height="1.14"/>
<rect x="1587.60" y="807.37" width="2.3" height="1.03"/>
<rect x="1591.16" y="807.65" width="2.3" height="0.75"/>
<rect x="1594.72" y="807.66" width="2.3" height="0.74"/>
<rect x="1598.29" y="807.24" width="2.3" height="1.16"/>
<rect x="1601.85" y="803.40" width="2.3" height="5.00"/>
<rect x="1605.41" y="805.53" width="2.3" height="2.87"/>
<rect x="1608.98" y="805.90" width="2.3" height="2.50"/>
<rect x="1612.54" y="807.28" width="2.3" height="1.12"/>
<rect x="1616.11" y="807.49" width="2.3" height="0.91"/>
<rect x="1619.67" y="807.52" width="2.3" height="0.88"/>
<rect x="1623.23" y="807.33" width="2.3" height="1.07"/>
<rect x="1626.80" y="807.40" width="2.3" height="1.00"/>
<rect x="1630.36" y="807.65" width="2.3" height="0.75"/>
<rect x="1633.93" y="807.66" width="2.3" height="0.74"/>
<rect x="1637.49" y="807.70" width="2.3" height="0.70"/>
<rect x="1641.05" y="807.55" width="2.3" height="0.85"/>
<rect x="1644.62" y="807.68" width="2.3" height="0.72"/>
<rect x="1648.18" y="802.10" width="2.3" height="6.30"/>
<rect x="1651.74" y="807.67" width="2.3" height="0.73"/>
<rect x="1655.31" y="807.16" width="2.3" height="1.24"/>
<rect x="1658.87" y="807.70" width="2.3" height="0.70"/>
<rect x="1662.44" y="807.70" width="2.3" height="0.70"/>
<rect x="1666.00" y="807.70" width="2.3" height="0.70"/>
<rect x="1669.56" y="807.64" width="2.3" height="0.76"/>
<rect x="1673.13" y="807.28" width="2.3" height="1.12"/>
<rect x="1676.69" y="807.54" width="2.3" height="0.86"/>
<rect x="1680.25" y="807.52" width="2.3" height="0.88"/>
<rect x="1683.82" y="807.37" width="2.3" height="1.03"/>
<rect x="1687.38" y="807.70" width="2.3" height="0.70"/>
<rect x="1690.95" y="806.89" width="2.3" height="1.51"/>
<rect x="1694.51" y="807.48" width="2.3" height="0.92"/>
<rect x="1698.07" y="807.55" width="2.3" height="0.85"/>
<rect x="1701.64" y="807.58" width="2.3" height="0.82"/>
<rect x="1705.20" y="807.70" width="2.3" height="0.70"/>
<rect x="1708.77" y="805.90" width="2.3" height="2.50"/>
<rect x="1712.33" y="807.40" width="2.3" height="1.00"/>
<rect x="1715.89" y="807.70" width="2.3" height="0.70"/>
<rect x="1719.46" y="807.54" width="2.3" height="0.86"/>
<rect x="1723.02" y="806.83" width="2.3" height="1.57"/>
<rect x="1726.58" y="807.58" width="2.3" height="0.82"/>
<rect x="1730.15" y="807.70" width="2.3" height="0.70"/>
<rect x="1733.71" y="807.54" width="2.3" height="0.86"/>
<rect x="1737.28" y="807.60" width="2.3" height="0.80"/>
<rect x="1740.84" y="807.70" width="2.3" height="0.70"/>
<rect x="1744.40" y="807.70" width="2.3" height="0.70"/>
<rect x="1747.97" y="807.70" width="2.3" height="0.70"/>
<rect x="1751.53" y="807.70" width="2.3" height="0.70"/>
<rect x="1755.09" y="807.70" width="2.3" height="0.70"/>
<rect x="1758.66" y="807.70" width="2.3" height="0.70"/>
<rect x="1762.22" y="807.40" width="2.3" height="1.00"/>
<rect x="1765.79" y="807.70" width="2.3" height="0.70"/>
<rect x="1769.35" y="807.70" width="2.3" height="0.70"/>
<rect x="1772.91" y="807.54" width="2.3" height="0.86"/>
<rect x="1776.48" y="807.39" width="2.3" height="1.01"/>
<rect x="1780.04" y="807.70" width="2.3" height="0.70"/>
<rect x="1783.60" y="807.68" width="2.3" height="0.72"/>
<rect x="1787.17" y="807.68" width="2.3" height="0.72"/>
</g>
<line x1="16" x2="1799" y1="808.5" y2="808.5" stroke="#6e7079" stroke-width="1"/>
<line x1="16" x2="1799" y1="96.5" y2="96.5" stroke="#6e7079" stroke-width="1"/>
<g font-size="12" text-anchor="middle" fill="#6e7079" letter-spacing="0.15">
<line x1="84.5" x2="84.5" y1="91" y2="96" stroke="#6e7079" stroke-width="1"/>
<text x="84.4" y="84.5">14:00</text>
<line x1="169.5" x2="169.5" y1="91" y2="96" stroke="#6e7079" stroke-width="1"/>
<text x="169.92" y="84.5">16:00</text>
<line x1="255.5" x2="255.5" y1="91" y2="96" stroke="#6e7079" stroke-width="1"/>
<text x="255.44" y="84.5">18:00</text>
<line x1="340.5" x2="340.5" y1="91" y2="96" stroke="#6e7079" stroke-width="1"/>
<text x="340.96" y="84.5">20:00</text>
<line x1="426.5" x2="426.5" y1="91" y2="96" stroke="#6e7079" stroke-width="1"/>
<text x="426.48" y="84.5">22:00</text>
<line x1="511.5" x2="511.5" y1="91" y2="96" stroke="#6e7079" stroke-width="1"/>
<text x="512" y="84.5" font-weight="bold">2</text>
<line x1="597.5" x2="597.5" y1="91" y2="96" stroke="#6e7079" stroke-width="1"/>
<text x="597.52" y="84.5">02:00</text>
<line x1="682.5" x2="682.5" y1="91" y2="96" stroke="#6e7079" stroke-width="1"/>
<text x="683.04" y="84.5">04:00</text>
<line x1="768.5" x2="768.5" y1="91" y2="96" stroke="#6e7079" stroke-width="1"/>
<text x="768.56" y="84.5">06:00</text>
<line x1="854.5" x2="854.5" y1="91" y2="96" stroke="#6e7079" stroke-width="1"/>
<text x="854.08" y="84.5">08:00</text>
<line x1="939.5" x2="939.5" y1="91" y2="96" stroke="#6e7079" stroke-width="1"/>
<text x="939.6" y="84.5">10:00</text>
<line x1="1025.5" x2="1025.5" y1="91" y2="96" stroke="#6e7079" stroke-width="1"/>
<text x="1025.12" y="84.5">12:00</text>
<line x1="1110.5" x2="1110.5" y1="91" y2="96" stroke="#6e7079" stroke-width="1"/>
<text x="1110.64" y="84.5">14:00</text>
<line x1="1196.5" x2="1196.5" y1="91" y2="96" stroke="#6e7079" stroke-width="1"/>
<text x="1196.16" y="84.5">16:00</text>
<line x1="1281.5" x2="1281.5" y1="91" y2="96" stroke="#6e7079" stroke-width="1"/>
<text x="1281.68" y="84.5">18:00</text>
<line x1="1367.5" x2="1367.5" y1="91" y2="96" stroke="#6e7079" stroke-width="1"/>
<text x="1367.2" y="84.5">20:00</text>
<line x1="1452.5" x2="1452.5" y1="91" y2="96" stroke="#6e7079" stroke-width="1"/>
<text x="1452.72" y="84.5">22:00</text>
<line x1="1538.5" x2="1538.5" y1="91" y2="96" stroke="#6e7079" stroke-width="1"/>
<text x="1538.24" y="84.5" font-weight="bold">3</text>
<line x1="1623.5" x2="1623.5" y1="91" y2="96" stroke="#6e7079" stroke-width="1"/>
<text x="1623.76" y="84.5">02:00</text>
<line x1="1709.5" x2="1709.5" y1="91" y2="96" stroke="#6e7079" stroke-width="1"/>
<text x="1709.28" y="84.5">04:00</text>
<line x1="1794.5" x2="1794.5" y1="91" y2="96" stroke="#6e7079" stroke-width="1"/>
<text x="1794.8" y="84.5">06:00</text>
</g>
<g font-size="12" fill="#6e7079" letter-spacing="0.12">
<text x="1807" y="98.9" letter-spacing="0.22">1,874.373400000</text>
<text x="1807" y="146.2">1,870</text>
<text x="1807" y="252.8">1,860</text>
<text x="1807" y="359.4">1,850</text>
<text x="1807" y="466">1,840</text>
<text x="1807" y="572.6">1,830</text>
<text x="1807" y="679.2">1,820</text>
<text x="1807" y="779">1,810.5932</text>
<text transform="translate(1862.6,775.3) rotate(-90)" text-anchor="middle" letter-spacing="0.3">volume</text>
</g>
<g font-size="12" fill="#333333">
<rect x="1518.5" y="41" width="27" height="15.5" rx="3.5" fill="#26a69a"/>
<text x="1550" y="52">Candles</text>
<rect x="1604.3" y="42" width="25" height="14" rx="3" fill="#777777"/>
<text x="1634" y="52" letter-spacing="0.4">Volume</text>
<path d="M1699.5 42.3L1712 56H1687Z" fill="#33ff4d"/>
<text x="1717.3" y="52">Entry</text>
<path d="M1769 42.3L1781 49L1769 56L1757 49Z" fill="#fbc14f"/>
<text x="1787" y="52">Exit</text>
<circle cx="1824" cy="49" r="7" fill="#4aa3df"/>
<text x="1842" y="52">Trades</text>
</g>
<defs><clipPath id="selc"><rect x="1704.5" y="824" width="96" height="30"/></clipPath><clipPath id="slc"><rect x="19.5" y="824.5" width="1781" height="29.5" rx="3"/></clipPath></defs>
<g clip-path="url(#slc)">
<polygon points="19.5,853.5 19.5,831.31 23.0,830.96 26.5,830.94 30.0,830.39 33.0,830.64 36.0,830.57 39.0,830.44 42.0,830.68 45.0,830.47 48.0,830.69 51.0,830.52 54.0,830.56 57.0,830.74 60.0,830.96 63.0,830.69 66.0,830.82 69.0,831.10 72.0,831.34 75.0,831.24 78.3,830.98 81.6,831.10 84.9,830.46 88.1,830.69 91.4,830.24 94.7,829.99 98.0,829.81 103.0,830.90 106.5,832.91 110.0,834.34 113.0,834.48 116.0,834.45 119.0,834.26 122.0,834.28 125.0,833.98 128.1,834.15 131.2,834.40 134.4,834.82 137.5,834.86 140.6,834.98 143.8,835.29 146.9,835.40 150.0,835.50 153.1,835.65 156.2,835.50 159.4,835.17 162.5,835.24 165.6,835.11 168.8,835.19 171.9,835.01 175.0,834.69 178.0,834.92 181.0,834.37 184.0,834.40 187.0,834.45 190.0,834.03 193.3,834.59 196.7,834.77 200.0,835.48 203.1,835.47 206.2,835.31 209.2,835.40 212.3,835.06 215.4,835.19 218.5,835.08 221.5,835.01 224.6,834.89 227.7,835.02 230.8,835.01 233.8,834.71 236.9,834.74 240.0,834.38 243.1,834.72 246.2,834.70 249.2,834.89 252.3,834.82 255.4,834.57 258.5,834.64 261.5,834.79 264.6,834.48 267.7,834.72 270.8,834.59 273.8,834.58 276.9,834.56 280.0,834.93 283.0,834.65 286.0,834.75 289.0,834.87 292.0,835.15 295.0,834.79 298.0,835.01 301.0,835.10 304.0,835.31 307.0,835.32 310.0,835.38 313.3,835.76 316.7,836.49 320.0,837.13 323.0,838.05 326.0,838.75 329.0,839.01 332.0,839.68 335.0,840.37 338.5,841.79 342.0,843.34 345.5,844.82 349.0,846.08 352.5,845.10 356.0,844.46 359.3,843.80 362.7,843.27 366.0,842.83 369.1,842.71 372.2,842.64 375.3,842.71 378.4,842.76 381.5,842.47 384.5,842.91 387.6,842.87 390.7,842.93 393.8,842.91 396.9,842.73 400.0,842.75 403.3,842.67 406.7,843.00 410.0,842.78 413.3,842.85 416.7,842.99 420.0,843.03 423.0,843.58 426.0,843.90 429.0,844.33 432.0,844.87 435.0,845.30 438.2,845.86 441.5,846.11 444.8,846.96 448.0,847.26 451.0,846.67 454.0,846.38 457.0,846.07 460.0,845.73 463.3,845.51 466.7,845.77 470.0,845.75 473.3,845.38 476.7,845.29 480.0,844.99 483.5,843.90 487.0,842.92 490.0,841.48 493.0,840.36 496.0,838.63 499.5,838.71 503.0,839.33 506.5,839.26 510.0,839.22 513.3,839.82 516.7,839.96 520.0,840.61 523.3,841.24 526.7,841.58 530.0,841.90 533.3,842.68 536.7,843.73 540.0,844.63 543.3,844.80 546.7,844.55 550.0,844.54 553.3,844.18 556.7,843.99 560.0,844.16 563.1,844.15 566.2,843.99 569.2,843.88 572.3,843.79 575.4,843.66 578.5,843.31 581.5,843.36 584.6,843.19 587.7,842.93 590.8,842.84 593.8,842.87 596.9,842.77 600.0,842.90 603.3,843.04 606.7,842.81 610.0,843.07 613.3,843.11 616.7,843.11 620.0,842.83 623.3,842.44 626.7,842.13 630.0,841.80 633.3,841.49 636.7,841.38 640.0,841.20 643.5,840.47 647.0,839.59 650.3,839.72 653.6,839.84 656.9,839.52 660.1,839.85 663.4,840.02 666.7,840.00 670.0,840.03 673.0,840.00 676.0,839.96 679.0,840.37 682.0,840.26 685.0,840.60 688.0,840.80 691.0,840.62 694.0,840.73 697.0,841.11 700.0,841.11 703.3,840.57 706.7,840.28 710.0,840.03 713.3,840.74 716.7,841.02 720.0,841.02 723.1,841.18 726.2,841.08 729.3,840.74 732.4,840.41 735.5,840.32 738.6,839.94 741.7,839.70 744.8,840.00 747.9,839.65 751.0,839.41 754.0,839.95 757.0,840.03 760.0,840.59 763.0,840.55 766.0,840.23 769.0,840.24 772.0,840.24 775.0,840.20 778.0,840.36 781.0,840.19 784.0,840.25 787.0,840.10 790.0,840.47 793.0,840.18 796.0,840.22 799.0,840.27 802.0,840.42 805.0,840.16 808.1,840.61 811.2,840.60 814.4,840.82 817.5,841.01 820.6,840.96 823.8,841.37 826.9,841.44 830.0,841.55 833.1,842.09 836.3,841.92 839.4,842.22 842.6,842.48 845.7,842.54 848.9,842.57 852.0,842.81 855.1,842.85 858.2,842.99 861.3,842.67 864.4,842.92 867.6,842.79 870.7,842.82 873.8,843.09 876.9,842.98 880.0,843.03 883.3,842.96 886.7,842.87 890.0,842.47 893.3,842.39 896.7,842.17 900.0,842.01 903.0,842.06 906.0,841.90 909.0,841.90 912.0,841.83 915.0,842.02 918.0,841.86 921.0,841.91 924.0,841.90 927.0,841.52 930.0,841.63 933.3,842.02 936.7,842.17 940.0,842.02 943.0,841.99 946.0,842.13 949.0,841.93 952.0,841.99 955.0,841.89 958.0,842.16 961.0,842.20 964.0,842.24 967.0,841.85 970.0,842.11 973.0,842.06 976.0,841.78 979.0,842.13 982.0,842.15 985.0,841.76 988.0,842.11 991.0,841.81 994.0,841.83 997.0,842.06 1000.0,841.97 1003.1,841.59 1006.2,841.69 1009.4,841.70 1012.5,841.57 1015.6,841.46 1018.8,841.48 1021.9,841.65 1025.0,841.26 1028.1,841.49 1031.2,841.40 1034.4,841.15 1037.5,841.27 1040.6,841.37 1043.8,841.28 1046.9,841.02 1050.0,841.44 1053.0,841.42 1056.0,841.60 1059.0,841.24 1062.0,841.40 1065.0,841.37 1068.0,841.82 1071.0,841.65 1074.0,841.65 1077.0,841.88 1080.0,842.21 1083.1,842.23 1086.2,842.03 1089.4,842.05 1092.5,842.51 1095.6,842.41 1098.8,842.55 1101.9,842.32 1105.0,842.38 1108.0,842.25 1111.0,841.68 1114.0,841.07 1117.0,841.06 1120.0,840.47 1123.0,840.53 1126.0,840.15 1129.0,840.52 1132.0,840.10 1135.0,840.48 1138.0,840.26 1141.0,840.18 1144.0,840.27 1147.0,840.43 1150.0,840.08 1154.0,841.11 1158.0,842.41 1161.0,842.29 1164.0,842.25 1167.0,842.30 1170.0,842.26 1173.0,842.36 1176.0,842.44 1179.0,842.46 1182.0,842.71 1185.0,842.49 1188.7,841.87 1192.3,840.97 1196.0,840.32 1199.0,839.76 1202.0,839.48 1205.0,838.96 1208.4,839.00 1211.8,838.59 1215.2,838.08 1218.6,837.91 1222.0,837.82 1225.0,836.50 1228.0,835.96 1231.2,835.75 1234.4,835.76 1237.6,835.91 1240.8,835.67 1244.0,835.70 1247.2,835.77 1250.4,835.90 1253.6,835.56 1256.8,835.79 1260.0,835.70 1263.1,835.74 1266.2,835.71 1269.2,835.75 1272.3,835.68 1275.4,835.80 1278.5,835.85 1281.5,836.26 1284.6,836.09 1287.7,836.12 1290.8,836.16 1293.8,836.62 1296.9,836.71 1300.0,836.69 1303.1,836.45 1306.2,836.40 1309.4,836.38 1312.5,836.43 1315.6,836.24 1318.8,836.35 1321.9,836.22 1325.0,836.53 1328.1,836.50 1331.2,836.25 1334.4,836.06 1337.5,836.38 1340.6,836.02 1343.8,836.00 1346.9,835.79 1350.0,835.94 1353.1,835.96 1356.2,835.95 1359.4,835.78 1362.5,835.90 1365.6,835.63 1368.8,835.73 1371.9,835.62 1375.0,835.75 1378.1,835.55 1381.2,835.51 1384.4,835.63 1387.5,835.57 1390.6,835.72 1393.8,835.66 1396.9,835.75 1400.0,835.68 1403.1,835.64 1406.1,835.65 1409.2,835.33 1412.2,835.23 1415.3,835.49 1418.4,835.00 1421.4,835.22 1424.5,835.11 1427.5,834.74 1430.6,835.06 1433.6,835.02 1436.7,834.82 1439.8,834.80 1442.8,834.77 1445.9,834.36 1448.9,834.48 1452.0,834.40 1456.0,835.17 1460.0,835.75 1463.1,835.78 1466.2,835.67 1469.2,835.84 1472.3,835.75 1475.4,835.77 1478.5,835.56 1481.5,835.47 1484.6,835.54 1487.7,835.67 1490.8,835.56 1493.8,835.94 1496.9,835.81 1500.0,835.86 1503.0,836.02 1506.0,836.21 1509.0,836.27 1512.0,836.19 1515.0,836.75 1518.0,836.66 1521.0,836.48 1524.0,836.44 1527.0,836.44 1530.0,836.08 1533.0,836.36 1536.0,836.06 1539.0,835.91 1542.0,835.94 1545.0,836.11 1548.2,835.73 1551.4,835.87 1554.5,835.86 1557.7,835.49 1560.9,835.30 1564.1,835.23 1567.3,835.20 1570.5,835.12 1573.6,834.91 1576.8,834.80 1580.0,834.39 1583.0,834.43 1586.0,834.50 1589.0,834.75 1592.0,834.54 1595.0,834.68 1598.0,834.42 1601.0,834.45 1604.0,834.56 1607.0,834.78 1610.0,834.80 1613.0,834.80 1616.0,834.62 1619.0,834.74 1622.0,834.72 1625.0,834.73 1628.0,834.57 1631.0,834.97 1634.0,834.63 1637.0,835.03 1640.0,835.02 1643.0,834.96 1646.0,835.58 1649.0,836.16 1652.0,836.63 1655.2,836.26 1658.3,836.05 1661.5,835.90 1664.7,836.16 1667.8,835.67 1671.0,835.74 1674.2,835.40 1677.3,835.48 1680.5,835.58 1683.7,835.05 1686.8,835.28 1690.0,835.00 1693.5,834.94 1697.0,834.60 1700.5,834.12 1704.0,834.20 1707.2,833.87 1710.4,833.52 1713.6,833.39 1716.8,833.52 1720.0,833.38 1723.3,833.43 1726.7,833.49 1730.0,833.72 1733.3,833.84 1736.7,834.24 1740.0,833.95 1743.3,834.23 1746.7,834.17 1750.0,833.71 1753.3,834.01 1756.7,833.81 1760.0,833.80 1763.3,833.46 1766.7,833.47 1770.0,833.45 1773.3,833.72 1776.7,833.48 1780.0,833.33 1783.4,833.43 1786.8,833.42 1790.2,833.37 1793.7,833.47 1797.1,833.90 1800.5,833.80 1800.5,853.5" fill="#d2dbee" fill-opacity="0.22"/>
<polyline points="19.5,831.31 23.0,830.96 26.5,830.94 30.0,830.39 33.0,830.64 36.0,830.57 39.0,830.44 42.0,830.68 45.0,830.47 48.0,830.69 51.0,830.52 54.0,830.56 57.0,830.74 60.0,830.96 63.0,830.69 66.0,830.82 69.0,831.10 72.0,831.34 75.0,831.24 78.3,830.98 81.6,831.10 84.9,830.46 88.1,830.69 91.4,830.24 94.7,829.99 98.0,829.81 103.0,830.90 106.5,832.91 110.0,834.34 113.0,834.48 116.0,834.45 119.0,834.26 122.0,834.28 125.0,833.98 128.1,834.15 131.2,834.40 134.4,834.82 137.5,834.86 140.6,834.98 143.8,835.29 146.9,835.40 150.0,835.50 153.1,835.65 156.2,835.50 159.4,835.17 162.5,835.24 165.6,835.11 168.8,835.19 171.9,835.01 175.0,834.69 178.0,834.92 181.0,834.37 184.0,834.40 187.0,834.45 190.0,834.03 193.3,834.59 196.7,834.77 200.0,835.48 203.1,835.47 206.2,835.31 209.2,835.40 212.3,835.06 215.4,835.19 218.5,835.08 221.5,835.01 224.6,834.89 227.7,835.02 230.8,835.01 233.8,834.71 236.9,834.74 240.0,834.38 243.1,834.72 246.2,834.70 249.2,834.89 252.3,834.82 255.4,834.57 258.5,834.64 261.5,834.79 264.6,834.48 267.7,834.72 270.8,834.59 273.8,834.58 276.9,834.56 280.0,834.93 283.0,834.65 286.0,834.75 289.0,834.87 292.0,835.15 295.0,834.79 298.0,835.01 301.0,835.10 304.0,835.31 307.0,835.32 310.0,835.38 313.3,835.76 316.7,836.49 320.0,837.13 323.0,838.05 326.0,838.75 329.0,839.01 332.0,839.68 335.0,840.37 338.5,841.79 342.0,843.34 345.5,844.82 349.0,846.08 352.5,845.10 356.0,844.46 359.3,843.80 362.7,843.27 366.0,842.83 369.1,842.71 372.2,842.64 375.3,842.71 378.4,842.76 381.5,842.47 384.5,842.91 387.6,842.87 390.7,842.93 393.8,842.91 396.9,842.73 400.0,842.75 403.3,842.67 406.7,843.00 410.0,842.78 413.3,842.85 416.7,842.99 420.0,843.03 423.0,843.58 426.0,843.90 429.0,844.33 432.0,844.87 435.0,845.30 438.2,845.86 441.5,846.11 444.8,846.96 448.0,847.26 451.0,846.67 454.0,846.38 457.0,846.07 460.0,845.73 463.3,845.51 466.7,845.77 470.0,845.75 473.3,845.38 476.7,845.29 480.0,844.99 483.5,843.90 487.0,842.92 490.0,841.48 493.0,840.36 496.0,838.63 499.5,838.71 503.0,839.33 506.5,839.26 510.0,839.22 513.3,839.82 516.7,839.96 520.0,840.61 523.3,841.24 526.7,841.58 530.0,841.90 533.3,842.68 536.7,843.73 540.0,844.63 543.3,844.80 546.7,844.55 550.0,844.54 553.3,844.18 556.7,843.99 560.0,844.16 563.1,844.15 566.2,843.99 569.2,843.88 572.3,843.79 575.4,843.66 578.5,843.31 581.5,843.36 584.6,843.19 587.7,842.93 590.8,842.84 593.8,842.87 596.9,842.77 600.0,842.90 603.3,843.04 606.7,842.81 610.0,843.07 613.3,843.11 616.7,843.11 620.0,842.83 623.3,842.44 626.7,842.13 630.0,841.80 633.3,841.49 636.7,841.38 640.0,841.20 643.5,840.47 647.0,839.59 650.3,839.72 653.6,839.84 656.9,839.52 660.1,839.85 663.4,840.02 666.7,840.00 670.0,840.03 673.0,840.00 676.0,839.96 679.0,840.37 682.0,840.26 685.0,840.60 688.0,840.80 691.0,840.62 694.0,840.73 697.0,841.11 700.0,841.11 703.3,840.57 706.7,840.28 710.0,840.03 713.3,840.74 716.7,841.02 720.0,841.02 723.1,841.18 726.2,841.08 729.3,840.74 732.4,840.41 735.5,840.32 738.6,839.94 741.7,839.70 744.8,840.00 747.9,839.65 751.0,839.41 754.0,839.95 757.0,840.03 760.0,840.59 763.0,840.55 766.0,840.23 769.0,840.24 772.0,840.24 775.0,840.20 778.0,840.36 781.0,840.19 784.0,840.25 787.0,840.10 790.0,840.47 793.0,840.18 796.0,840.22 799.0,840.27 802.0,840.42 805.0,840.16 808.1,840.61 811.2,840.60 814.4,840.82 817.5,841.01 820.6,840.96 823.8,841.37 826.9,841.44 830.0,841.55 833.1,842.09 836.3,841.92 839.4,842.22 842.6,842.48 845.7,842.54 848.9,842.57 852.0,842.81 855.1,842.85 858.2,842.99 861.3,842.67 864.4,842.92 867.6,842.79 870.7,842.82 873.8,843.09 876.9,842.98 880.0,843.03 883.3,842.96 886.7,842.87 890.0,842.47 893.3,842.39 896.7,842.17 900.0,842.01 903.0,842.06 906.0,841.90 909.0,841.90 912.0,841.83 915.0,842.02 918.0,841.86 921.0,841.91 924.0,841.90 927.0,841.52 930.0,841.63 933.3,842.02 936.7,842.17 940.0,842.02 943.0,841.99 946.0,842.13 949.0,841.93 952.0,841.99 955.0,841.89 958.0,842.16 961.0,842.20 964.0,842.24 967.0,841.85 970.0,842.11 973.0,842.06 976.0,841.78 979.0,842.13 982.0,842.15 985.0,841.76 988.0,842.11 991.0,841.81 994.0,841.83 997.0,842.06 1000.0,841.97 1003.1,841.59 1006.2,841.69 1009.4,841.70 1012.5,841.57 1015.6,841.46 1018.8,841.48 1021.9,841.65 1025.0,841.26 1028.1,841.49 1031.2,841.40 1034.4,841.15 1037.5,841.27 1040.6,841.37 1043.8,841.28 1046.9,841.02 1050.0,841.44 1053.0,841.42 1056.0,841.60 1059.0,841.24 1062.0,841.40 1065.0,841.37 1068.0,841.82 1071.0,841.65 1074.0,841.65 1077.0,841.88 1080.0,842.21 1083.1,842.23 1086.2,842.03 1089.4,842.05 1092.5,842.51 1095.6,842.41 1098.8,842.55 1101.9,842.32 1105.0,842.38 1108.0,842.25 1111.0,841.68 1114.0,841.07 1117.0,841.06 1120.0,840.47 1123.0,840.53 1126.0,840.15 1129.0,840.52 1132.0,840.10 1135.0,840.48 1138.0,840.26 1141.0,840.18 1144.0,840.27 1147.0,840.43 1150.0,840.08 1154.0,841.11 1158.0,842.41 1161.0,842.29 1164.0,842.25 1167.0,842.30 1170.0,842.26 1173.0,842.36 1176.0,842.44 1179.0,842.46 1182.0,842.71 1185.0,842.49 1188.7,841.87 1192.3,840.97 1196.0,840.32 1199.0,839.76 1202.0,839.48 1205.0,838.96 1208.4,839.00 1211.8,838.59 1215.2,838.08 1218.6,837.91 1222.0,837.82 1225.0,836.50 1228.0,835.96 1231.2,835.75 1234.4,835.76 1237.6,835.91 1240.8,835.67 1244.0,835.70 1247.2,835.77 1250.4,835.90 1253.6,835.56 1256.8,835.79 1260.0,835.70 1263.1,835.74 1266.2,835.71 1269.2,835.75 1272.3,835.68 1275.4,835.80 1278.5,835.85 1281.5,836.26 1284.6,836.09 1287.7,836.12 1290.8,836.16 1293.8,836.62 1296.9,836.71 1300.0,836.69 1303.1,836.45 1306.2,836.40 1309.4,836.38 1312.5,836.43 1315.6,836.24 1318.8,836.35 1321.9,836.22 1325.0,836.53 1328.1,836.50 1331.2,836.25 1334.4,836.06 1337.5,836.38 1340.6,836.02 1343.8,836.00 1346.9,835.79 1350.0,835.94 1353.1,835.96 1356.2,835.95 1359.4,835.78 1362.5,835.90 1365.6,835.63 1368.8,835.73 1371.9,835.62 1375.0,835.75 1378.1,835.55 1381.2,835.51 1384.4,835.63 1387.5,835.57 1390.6,835.72 1393.8,835.66 1396.9,835.75 1400.0,835.68 1403.1,835.64 1406.1,835.65 1409.2,835.33 1412.2,835.23 1415.3,835.49 1418.4,835.00 1421.4,835.22 1424.5,835.11 1427.5,834.74 1430.6,835.06 1433.6,835.02 1436.7,834.82 1439.8,834.80 1442.8,834.77 1445.9,834.36 1448.9,834.48 1452.0,834.40 1456.0,835.17 1460.0,835.75 1463.1,835.78 1466.2,835.67 1469.2,835.84 1472.3,835.75 1475.4,835.77 1478.5,835.56 1481.5,835.47 1484.6,835.54 1487.7,835.67 1490.8,835.56 1493.8,835.94 1496.9,835.81 1500.0,835.86 1503.0,836.02 1506.0,836.21 1509.0,836.27 1512.0,836.19 1515.0,836.75 1518.0,836.66 1521.0,836.48 1524.0,836.44 1527.0,836.44 1530.0,836.08 1533.0,836.36 1536.0,836.06 1539.0,835.91 1542.0,835.94 1545.0,836.11 1548.2,835.73 1551.4,835.87 1554.5,835.86 1557.7,835.49 1560.9,835.30 1564.1,835.23 1567.3,835.20 1570.5,835.12 1573.6,834.91 1576.8,834.80 1580.0,834.39 1583.0,834.43 1586.0,834.50 1589.0,834.75 1592.0,834.54 1595.0,834.68 1598.0,834.42 1601.0,834.45 1604.0,834.56 1607.0,834.78 1610.0,834.80 1613.0,834.80 1616.0,834.62 1619.0,834.74 1622.0,834.72 1625.0,834.73 1628.0,834.57 1631.0,834.97 1634.0,834.63 1637.0,835.03 1640.0,835.02 1643.0,834.96 1646.0,835.58 1649.0,836.16 1652.0,836.63 1655.2,836.26 1658.3,836.05 1661.5,835.90 1664.7,836.16 1667.8,835.67 1671.0,835.74 1674.2,835.40 1677.3,835.48 1680.5,835.58 1683.7,835.05 1686.8,835.28 1690.0,835.00 1693.5,834.94 1697.0,834.60 1700.5,834.12 1704.0,834.20 1707.2,833.87 1710.4,833.52 1713.6,833.39 1716.8,833.52 1720.0,833.38 1723.3,833.43 1726.7,833.49 1730.0,833.72 1733.3,833.84 1736.7,834.24 1740.0,833.95 1743.3,834.23 1746.7,834.17 1750.0,833.71 1753.3,834.01 1756.7,833.81 1760.0,833.80 1763.3,833.46 1766.7,833.47 1770.0,833.45 1773.3,833.72 1776.7,833.48 1780.0,833.33 1783.4,833.43 1786.8,833.42 1790.2,833.37 1793.7,833.47 1797.1,833.90 1800.5,833.80" fill="none" stroke="#d2dbee" stroke-width="0.8"/>
<rect x="1704.5" y="824.5" width="96" height="29.5" fill="rgb(135,175,255)" fill-opacity="0.2"/>
<g clip-path="url(#selc)"><polygon points="19.5,853.5 19.5,831.31 23.0,830.96 26.5,830.94 30.0,830.39 33.0,830.64 36.0,830.57 39.0,830.44 42.0,830.68 45.0,830.47 48.0,830.69 51.0,830.52 54.0,830.56 57.0,830.74 60.0,830.96 63.0,830.69 66.0,830.82 69.0,831.10 72.0,831.34 75.0,831.24 78.3,830.98 81.6,831.10 84.9,830.46 88.1,830.69 91.4,830.24 94.7,829.99 98.0,829.81 103.0,830.90 106.5,832.91 110.0,834.34 113.0,834.48 116.0,834.45 119.0,834.26 122.0,834.28 125.0,833.98 128.1,834.15 131.2,834.40 134.4,834.82 137.5,834.86 140.6,834.98 143.8,835.29 146.9,835.40 150.0,835.50 153.1,835.65 156.2,835.50 159.4,835.17 162.5,835.24 165.6,835.11 168.8,835.19 171.9,835.01 175.0,834.69 178.0,834.92 181.0,834.37 184.0,834.40 187.0,834.45 190.0,834.03 193.3,834.59 196.7,834.77 200.0,835.48 203.1,835.47 206.2,835.31 209.2,835.40 212.3,835.06 215.4,835.19 218.5,835.08 221.5,835.01 224.6,834.89 227.7,835.02 230.8,835.01 233.8,834.71 236.9,834.74 240.0,834.38 243.1,834.72 246.2,834.70 249.2,834.89 252.3,834.82 255.4,834.57 258.5,834.64 261.5,834.79 264.6,834.48 267.7,834.72 270.8,834.59 273.8,834.58 276.9,834.56 280.0,834.93 283.0,834.65 286.0,834.75 289.0,834.87 292.0,835.15 295.0,834.79 298.0,835.01 301.0,835.10 304.0,835.31 307.0,835.32 310.0,835.38 313.3,835.76 316.7,836.49 320.0,837.13 323.0,838.05 326.0,838.75 329.0,839.01 332.0,839.68 335.0,840.37 338.5,841.79 342.0,843.34 345.5,844.82 349.0,846.08 352.5,845.10 356.0,844.46 359.3,843.80 362.7,843.27 366.0,842.83 369.1,842.71 372.2,842.64 375.3,842.71 378.4,842.76 381.5,842.47 384.5,842.91 387.6,842.87 390.7,842.93 393.8,842.91 396.9,842.73 400.0,842.75 403.3,842.67 406.7,843.00 410.0,842.78 413.3,842.85 416.7,842.99 420.0,843.03 423.0,843.58 426.0,843.90 429.0,844.33 432.0,844.87 435.0,845.30 438.2,845.86 441.5,846.11 444.8,846.96 448.0,847.26 451.0,846.67 454.0,846.38 457.0,846.07 460.0,845.73 463.3,845.51 466.7,845.77 470.0,845.75 473.3,845.38 476.7,845.29 480.0,844.99 483.5,843.90 487.0,842.92 490.0,841.48 493.0,840.36 496.0,838.63 499.5,838.71 503.0,839.33 506.5,839.26 510.0,839.22 513.3,839.82 516.7,839.96 520.0,840.61 523.3,841.24 526.7,841.58 530.0,841.90 533.3,842.68 536.7,843.73 540.0,844.63 543.3,844.80 546.7,844.55 550.0,844.54 553.3,844.18 556.7,843.99 560.0,844.16 563.1,844.15 566.2,843.99 569.2,843.88 572.3,843.79 575.4,843.66 578.5,843.31 581.5,843.36 584.6,843.19 587.7,842.93 590.8,842.84 593.8,842.87 596.9,842.77 600.0,842.90 603.3,843.04 606.7,842.81 610.0,843.07 613.3,843.11 616.7,843.11 620.0,842.83 623.3,842.44 626.7,842.13 630.0,841.80 633.3,841.49 636.7,841.38 640.0,841.20 643.5,840.47 647.0,839.59 650.3,839.72 653.6,839.84 656.9,839.52 660.1,839.85 663.4,840.02 666.7,840.00 670.0,840.03 673.0,840.00 676.0,839.96 679.0,840.37 682.0,840.26 685.0,840.60 688.0,840.80 691.0,840.62 694.0,840.73 697.0,841.11 700.0,841.11 703.3,840.57 706.7,840.28 710.0,840.03 713.3,840.74 716.7,841.02 720.0,841.02 723.1,841.18 726.2,841.08 729.3,840.74 732.4,840.41 735.5,840.32 738.6,839.94 741.7,839.70 744.8,840.00 747.9,839.65 751.0,839.41 754.0,839.95 757.0,840.03 760.0,840.59 763.0,840.55 766.0,840.23 769.0,840.24 772.0,840.24 775.0,840.20 778.0,840.36 781.0,840.19 784.0,840.25 787.0,840.10 790.0,840.47 793.0,840.18 796.0,840.22 799.0,840.27 802.0,840.42 805.0,840.16 808.1,840.61 811.2,840.60 814.4,840.82 817.5,841.01 820.6,840.96 823.8,841.37 826.9,841.44 830.0,841.55 833.1,842.09 836.3,841.92 839.4,842.22 842.6,842.48 845.7,842.54 848.9,842.57 852.0,842.81 855.1,842.85 858.2,842.99 861.3,842.67 864.4,842.92 867.6,842.79 870.7,842.82 873.8,843.09 876.9,842.98 880.0,843.03 883.3,842.96 886.7,842.87 890.0,842.47 893.3,842.39 896.7,842.17 900.0,842.01 903.0,842.06 906.0,841.90 909.0,841.90 912.0,841.83 915.0,842.02 918.0,841.86 921.0,841.91 924.0,841.90 927.0,841.52 930.0,841.63 933.3,842.02 936.7,842.17 940.0,842.02 943.0,841.99 946.0,842.13 949.0,841.93 952.0,841.99 955.0,841.89 958.0,842.16 961.0,842.20 964.0,842.24 967.0,841.85 970.0,842.11 973.0,842.06 976.0,841.78 979.0,842.13 982.0,842.15 985.0,841.76 988.0,842.11 991.0,841.81 994.0,841.83 997.0,842.06 1000.0,841.97 1003.1,841.59 1006.2,841.69 1009.4,841.70 1012.5,841.57 1015.6,841.46 1018.8,841.48 1021.9,841.65 1025.0,841.26 1028.1,841.49 1031.2,841.40 1034.4,841.15 1037.5,841.27 1040.6,841.37 1043.8,841.28 1046.9,841.02 1050.0,841.44 1053.0,841.42 1056.0,841.60 1059.0,841.24 1062.0,841.40 1065.0,841.37 1068.0,841.82 1071.0,841.65 1074.0,841.65 1077.0,841.88 1080.0,842.21 1083.1,842.23 1086.2,842.03 1089.4,842.05 1092.5,842.51 1095.6,842.41 1098.8,842.55 1101.9,842.32 1105.0,842.38 1108.0,842.25 1111.0,841.68 1114.0,841.07 1117.0,841.06 1120.0,840.47 1123.0,840.53 1126.0,840.15 1129.0,840.52 1132.0,840.10 1135.0,840.48 1138.0,840.26 1141.0,840.18 1144.0,840.27 1147.0,840.43 1150.0,840.08 1154.0,841.11 1158.0,842.41 1161.0,842.29 1164.0,842.25 1167.0,842.30 1170.0,842.26 1173.0,842.36 1176.0,842.44 1179.0,842.46 1182.0,842.71 1185.0,842.49 1188.7,841.87 1192.3,840.97 1196.0,840.32 1199.0,839.76 1202.0,839.48 1205.0,838.96 1208.4,839.00 1211.8,838.59 1215.2,838.08 1218.6,837.91 1222.0,837.82 1225.0,836.50 1228.0,835.96 1231.2,835.75 1234.4,835.76 1237.6,835.91 1240.8,835.67 1244.0,835.70 1247.2,835.77 1250.4,835.90 1253.6,835.56 1256.8,835.79 1260.0,835.70 1263.1,835.74 1266.2,835.71 1269.2,835.75 1272.3,835.68 1275.4,835.80 1278.5,835.85 1281.5,836.26 1284.6,836.09 1287.7,836.12 1290.8,836.16 1293.8,836.62 1296.9,836.71 1300.0,836.69 1303.1,836.45 1306.2,836.40 1309.4,836.38 1312.5,836.43 1315.6,836.24 1318.8,836.35 1321.9,836.22 1325.0,836.53 1328.1,836.50 1331.2,836.25 1334.4,836.06 1337.5,836.38 1340.6,836.02 1343.8,836.00 1346.9,835.79 1350.0,835.94 1353.1,835.96 1356.2,835.95 1359.4,835.78 1362.5,835.90 1365.6,835.63 1368.8,835.73 1371.9,835.62 1375.0,835.75 1378.1,835.55 1381.2,835.51 1384.4,835.63 1387.5,835.57 1390.6,835.72 1393.8,835.66 1396.9,835.75 1400.0,835.68 1403.1,835.64 1406.1,835.65 1409.2,835.33 1412.2,835.23 1415.3,835.49 1418.4,835.00 1421.4,835.22 1424.5,835.11 1427.5,834.74 1430.6,835.06 1433.6,835.02 1436.7,834.82 1439.8,834.80 1442.8,834.77 1445.9,834.36 1448.9,834.48 1452.0,834.40 1456.0,835.17 1460.0,835.75 1463.1,835.78 1466.2,835.67 1469.2,835.84 1472.3,835.75 1475.4,835.77 1478.5,835.56 1481.5,835.47 1484.6,835.54 1487.7,835.67 1490.8,835.56 1493.8,835.94 1496.9,835.81 1500.0,835.86 1503.0,836.02 1506.0,836.21 1509.0,836.27 1512.0,836.19 1515.0,836.75 1518.0,836.66 1521.0,836.48 1524.0,836.44 1527.0,836.44 1530.0,836.08 1533.0,836.36 1536.0,836.06 1539.0,835.91 1542.0,835.94 1545.0,836.11 1548.2,835.73 1551.4,835.87 1554.5,835.86 1557.7,835.49 1560.9,835.30 1564.1,835.23 1567.3,835.20 1570.5,835.12 1573.6,834.91 1576.8,834.80 1580.0,834.39 1583.0,834.43 1586.0,834.50 1589.0,834.75 1592.0,834.54 1595.0,834.68 1598.0,834.42 1601.0,834.45 1604.0,834.56 1607.0,834.78 1610.0,834.80 1613.0,834.80 1616.0,834.62 1619.0,834.74 1622.0,834.72 1625.0,834.73 1628.0,834.57 1631.0,834.97 1634.0,834.63 1637.0,835.03 1640.0,835.02 1643.0,834.96 1646.0,835.58 1649.0,836.16 1652.0,836.63 1655.2,836.26 1658.3,836.05 1661.5,835.90 1664.7,836.16 1667.8,835.67 1671.0,835.74 1674.2,835.40 1677.3,835.48 1680.5,835.58 1683.7,835.05 1686.8,835.28 1690.0,835.00 1693.5,834.94 1697.0,834.60 1700.5,834.12 1704.0,834.20 1707.2,833.87 1710.4,833.52 1713.6,833.39 1716.8,833.52 1720.0,833.38 1723.3,833.43 1726.7,833.49 1730.0,833.72 1733.3,833.84 1736.7,834.24 1740.0,833.95 1743.3,834.23 1746.7,834.17 1750.0,833.71 1753.3,834.01 1756.7,833.81 1760.0,833.80 1763.3,833.46 1766.7,833.47 1770.0,833.45 1773.3,833.72 1776.7,833.48 1780.0,833.33 1783.4,833.43 1786.8,833.42 1790.2,833.37 1793.7,833.47 1797.1,833.90 1800.5,833.80 1800.5,853.5" fill="#8fb0f7" fill-opacity="0.2"/>
<polyline points="19.5,831.31 23.0,830.96 26.5,830.94 30.0,830.39 33.0,830.64 36.0,830.57 39.0,830.44 42.0,830.68 45.0,830.47 48.0,830.69 51.0,830.52 54.0,830.56 57.0,830.74 60.0,830.96 63.0,830.69 66.0,830.82 69.0,831.10 72.0,831.34 75.0,831.24 78.3,830.98 81.6,831.10 84.9,830.46 88.1,830.69 91.4,830.24 94.7,829.99 98.0,829.81 103.0,830.90 106.5,832.91 110.0,834.34 113.0,834.48 116.0,834.45 119.0,834.26 122.0,834.28 125.0,833.98 128.1,834.15 131.2,834.40 134.4,834.82 137.5,834.86 140.6,834.98 143.8,835.29 146.9,835.40 150.0,835.50 153.1,835.65 156.2,835.50 159.4,835.17 162.5,835.24 165.6,835.11 168.8,835.19 171.9,835.01 175.0,834.69 178.0,834.92 181.0,834.37 184.0,834.40 187.0,834.45 190.0,834.03 193.3,834.59 196.7,834.77 200.0,835.48 203.1,835.47 206.2,835.31 209.2,835.40 212.3,835.06 215.4,835.19 218.5,835.08 221.5,835.01 224.6,834.89 227.7,835.02 230.8,835.01 233.8,834.71 236.9,834.74 240.0,834.38 243.1,834.72 246.2,834.70 249.2,834.89 252.3,834.82 255.4,834.57 258.5,834.64 261.5,834.79 264.6,834.48 267.7,834.72 270.8,834.59 273.8,834.58 276.9,834.56 280.0,834.93 283.0,834.65 286.0,834.75 289.0,834.87 292.0,835.15 295.0,834.79 298.0,835.01 301.0,835.10 304.0,835.31 307.0,835.32 310.0,835.38 313.3,835.76 316.7,836.49 320.0,837.13 323.0,838.05 326.0,838.75 329.0,839.01 332.0,839.68 335.0,840.37 338.5,841.79 342.0,843.34 345.5,844.82 349.0,846.08 352.5,845.10 356.0,844.46 359.3,843.80 362.7,843.27 366.0,842.83 369.1,842.71 372.2,842.64 375.3,842.71 378.4,842.76 381.5,842.47 384.5,842.91 387.6,842.87 390.7,842.93 393.8,842.91 396.9,842.73 400.0,842.75 403.3,842.67 406.7,843.00 410.0,842.78 413.3,842.85 416.7,842.99 420.0,843.03 423.0,843.58 426.0,843.90 429.0,844.33 432.0,844.87 435.0,845.30 438.2,845.86 441.5,846.11 444.8,846.96 448.0,847.26 451.0,846.67 454.0,846.38 457.0,846.07 460.0,845.73 463.3,845.51 466.7,845.77 470.0,845.75 473.3,845.38 476.7,845.29 480.0,844.99 483.5,843.90 487.0,842.92 490.0,841.48 493.0,840.36 496.0,838.63 499.5,838.71 503.0,839.33 506.5,839.26 510.0,839.22 513.3,839.82 516.7,839.96 520.0,840.61 523.3,841.24 526.7,841.58 530.0,841.90 533.3,842.68 536.7,843.73 540.0,844.63 543.3,844.80 546.7,844.55 550.0,844.54 553.3,844.18 556.7,843.99 560.0,844.16 563.1,844.15 566.2,843.99 569.2,843.88 572.3,843.79 575.4,843.66 578.5,843.31 581.5,843.36 584.6,843.19 587.7,842.93 590.8,842.84 593.8,842.87 596.9,842.77 600.0,842.90 603.3,843.04 606.7,842.81 610.0,843.07 613.3,843.11 616.7,843.11 620.0,842.83 623.3,842.44 626.7,842.13 630.0,841.80 633.3,841.49 636.7,841.38 640.0,841.20 643.5,840.47 647.0,839.59 650.3,839.72 653.6,839.84 656.9,839.52 660.1,839.85 663.4,840.02 666.7,840.00 670.0,840.03 673.0,840.00 676.0,839.96 679.0,840.37 682.0,840.26 685.0,840.60 688.0,840.80 691.0,840.62 694.0,840.73 697.0,841.11 700.0,841.11 703.3,840.57 706.7,840.28 710.0,840.03 713.3,840.74 716.7,841.02 720.0,841.02 723.1,841.18 726.2,841.08 729.3,840.74 732.4,840.41 735.5,840.32 738.6,839.94 741.7,839.70 744.8,840.00 747.9,839.65 751.0,839.41 754.0,839.95 757.0,840.03 760.0,840.59 763.0,840.55 766.0,840.23 769.0,840.24 772.0,840.24 775.0,840.20 778.0,840.36 781.0,840.19 784.0,840.25 787.0,840.10 790.0,840.47 793.0,840.18 796.0,840.22 799.0,840.27 802.0,840.42 805.0,840.16 808.1,840.61 811.2,840.60 814.4,840.82 817.5,841.01 820.6,840.96 823.8,841.37 826.9,841.44 830.0,841.55 833.1,842.09 836.3,841.92 839.4,842.22 842.6,842.48 845.7,842.54 848.9,842.57 852.0,842.81 855.1,842.85 858.2,842.99 861.3,842.67 864.4,842.92 867.6,842.79 870.7,842.82 873.8,843.09 876.9,842.98 880.0,843.03 883.3,842.96 886.7,842.87 890.0,842.47 893.3,842.39 896.7,842.17 900.0,842.01 903.0,842.06 906.0,841.90 909.0,841.90 912.0,841.83 915.0,842.02 918.0,841.86 921.0,841.91 924.0,841.90 927.0,841.52 930.0,841.63 933.3,842.02 936.7,842.17 940.0,842.02 943.0,841.99 946.0,842.13 949.0,841.93 952.0,841.99 955.0,841.89 958.0,842.16 961.0,842.20 964.0,842.24 967.0,841.85 970.0,842.11 973.0,842.06 976.0,841.78 979.0,842.13 982.0,842.15 985.0,841.76 988.0,842.11 991.0,841.81 994.0,841.83 997.0,842.06 1000.0,841.97 1003.1,841.59 1006.2,841.69 1009.4,841.70 1012.5,841.57 1015.6,841.46 1018.8,841.48 1021.9,841.65 1025.0,841.26 1028.1,841.49 1031.2,841.40 1034.4,841.15 1037.5,841.27 1040.6,841.37 1043.8,841.28 1046.9,841.02 1050.0,841.44 1053.0,841.42 1056.0,841.60 1059.0,841.24 1062.0,841.40 1065.0,841.37 1068.0,841.82 1071.0,841.65 1074.0,841.65 1077.0,841.88 1080.0,842.21 1083.1,842.23 1086.2,842.03 1089.4,842.05 1092.5,842.51 1095.6,842.41 1098.8,842.55 1101.9,842.32 1105.0,842.38 1108.0,842.25 1111.0,841.68 1114.0,841.07 1117.0,841.06 1120.0,840.47 1123.0,840.53 1126.0,840.15 1129.0,840.52 1132.0,840.10 1135.0,840.48 1138.0,840.26 1141.0,840.18 1144.0,840.27 1147.0,840.43 1150.0,840.08 1154.0,841.11 1158.0,842.41 1161.0,842.29 1164.0,842.25 1167.0,842.30 1170.0,842.26 1173.0,842.36 1176.0,842.44 1179.0,842.46 1182.0,842.71 1185.0,842.49 1188.7,841.87 1192.3,840.97 1196.0,840.32 1199.0,839.76 1202.0,839.48 1205.0,838.96 1208.4,839.00 1211.8,838.59 1215.2,838.08 1218.6,837.91 1222.0,837.82 1225.0,836.50 1228.0,835.96 1231.2,835.75 1234.4,835.76 1237.6,835.91 1240.8,835.67 1244.0,835.70 1247.2,835.77 1250.4,835.90 1253.6,835.56 1256.8,835.79 1260.0,835.70 1263.1,835.74 1266.2,835.71 1269.2,835.75 1272.3,835.68 1275.4,835.80 1278.5,835.85 1281.5,836.26 1284.6,836.09 1287.7,836.12 1290.8,836.16 1293.8,836.62 1296.9,836.71 1300.0,836.69 1303.1,836.45 1306.2,836.40 1309.4,836.38 1312.5,836.43 1315.6,836.24 1318.8,836.35 1321.9,836.22 1325.0,836.53 1328.1,836.50 1331.2,836.25 1334.4,836.06 1337.5,836.38 1340.6,836.02 1343.8,836.00 1346.9,835.79 1350.0,835.94 1353.1,835.96 1356.2,835.95 1359.4,835.78 1362.5,835.90 1365.6,835.63 1368.8,835.73 1371.9,835.62 1375.0,835.75 1378.1,835.55 1381.2,835.51 1384.4,835.63 1387.5,835.57 1390.6,835.72 1393.8,835.66 1396.9,835.75 1400.0,835.68 1403.1,835.64 1406.1,835.65 1409.2,835.33 1412.2,835.23 1415.3,835.49 1418.4,835.00 1421.4,835.22 1424.5,835.11 1427.5,834.74 1430.6,835.06 1433.6,835.02 1436.7,834.82 1439.8,834.80 1442.8,834.77 1445.9,834.36 1448.9,834.48 1452.0,834.40 1456.0,835.17 1460.0,835.75 1463.1,835.78 1466.2,835.67 1469.2,835.84 1472.3,835.75 1475.4,835.77 1478.5,835.56 1481.5,835.47 1484.6,835.54 1487.7,835.67 1490.8,835.56 1493.8,835.94 1496.9,835.81 1500.0,835.86 1503.0,836.02 1506.0,836.21 1509.0,836.27 1512.0,836.19 1515.0,836.75 1518.0,836.66 1521.0,836.48 1524.0,836.44 1527.0,836.44 1530.0,836.08 1533.0,836.36 1536.0,836.06 1539.0,835.91 1542.0,835.94 1545.0,836.11 1548.2,835.73 1551.4,835.87 1554.5,835.86 1557.7,835.49 1560.9,835.30 1564.1,835.23 1567.3,835.20 1570.5,835.12 1573.6,834.91 1576.8,834.80 1580.0,834.39 1583.0,834.43 1586.0,834.50 1589.0,834.75 1592.0,834.54 1595.0,834.68 1598.0,834.42 1601.0,834.45 1604.0,834.56 1607.0,834.78 1610.0,834.80 1613.0,834.80 1616.0,834.62 1619.0,834.74 1622.0,834.72 1625.0,834.73 1628.0,834.57 1631.0,834.97 1634.0,834.63 1637.0,835.03 1640.0,835.02 1643.0,834.96 1646.0,835.58 1649.0,836.16 1652.0,836.63 1655.2,836.26 1658.3,836.05 1661.5,835.90 1664.7,836.16 1667.8,835.67 1671.0,835.74 1674.2,835.40 1677.3,835.48 1680.5,835.58 1683.7,835.05 1686.8,835.28 1690.0,835.00 1693.5,834.94 1697.0,834.60 1700.5,834.12 1704.0,834.20 1707.2,833.87 1710.4,833.52 1713.6,833.39 1716.8,833.52 1720.0,833.38 1723.3,833.43 1726.7,833.49 1730.0,833.72 1733.3,833.84 1736.7,834.24 1740.0,833.95 1743.3,834.23 1746.7,834.17 1750.0,833.71 1753.3,834.01 1756.7,833.81 1760.0,833.80 1763.3,833.46 1766.7,833.47 1770.0,833.45 1773.3,833.72 1776.7,833.48 1780.0,833.33 1783.4,833.43 1786.8,833.42 1790.2,833.37 1793.7,833.47 1797.1,833.90 1800.5,833.80" fill="none" stroke="#8fb0f7" stroke-width="0.8"/></g>
</g>
<rect x="19.5" y="824.5" width="1781" height="29.5" rx="3" fill="none" stroke="#d2dbee" stroke-width="1"/>
<path d="M1704.5 824.5V821a3 3 0 0 1 3-3H1797.5a3 3 0 0 1 3 3V824.5Z" fill="#d2dbee" fill-opacity="0.7"/>
<path d="M1750.5 819.8V823M1752.5 819.8V823M1754.5 819.8V823" stroke="#fff" stroke-width="1" stroke-opacity="0.9"/>
<circle cx="1704.6" cy="839.3" r="11.8" fill="#fff" stroke="#acb8d1" stroke-width="1"/>
<rect x="1700.2" y="835" width="2.4" height="8.6" rx="0.3" fill="#c3cde6" stroke="#acb8d1" stroke-width="0.5"/>
<rect x="1706.5" y="835" width="2.4" height="8.6" rx="0.3" fill="#c3cde6" stroke="#acb8d1" stroke-width="0.5"/>
<circle cx="1800" cy="839.3" r="11.8" fill="#fff" stroke="#acb8d1" stroke-width="1"/>
<rect x="1795.6" y="835" width="2.4" height="8.6" rx="0.3" fill="#c3cde6" stroke="#acb8d1" stroke-width="0.5"/>
<rect x="1801.9" y="835" width="2.4" height="8.6" rx="0.3" fill="#c3cde6" stroke="#acb8d1" stroke-width="0.5"/>
</svg>
</body></html>
